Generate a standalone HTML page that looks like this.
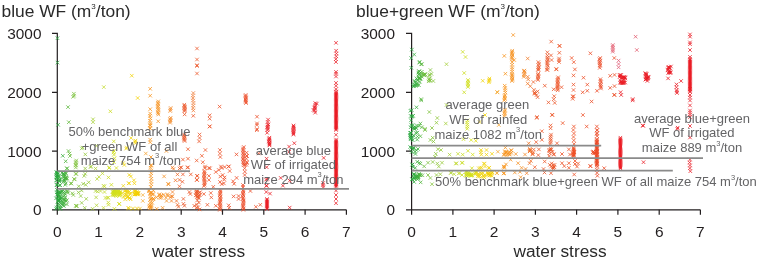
<!DOCTYPE html>
<html><head><meta charset="utf-8">
<style>
html,body{margin:0;padding:0;background:#fff;}
body{width:758px;height:260px;overflow:hidden;position:relative;}
svg{position:absolute;left:0;top:0;will-change:transform;}
text{font-family:"Liberation Sans",sans-serif;}
.t{font-size:17.4px;fill:#2a2a2a;}
.yl{font-size:15.4px;fill:#231f20;text-anchor:end;}
.xl{font-size:15.5px;fill:#231f20;text-anchor:middle;}
.an{font-size:13px;fill:#646466;text-anchor:middle;}
.ax{stroke:#231f20;stroke-width:1.2;fill:none;}
.gl{stroke:#8a8a8a;stroke-width:1.8;}
</style></head><body>
<svg width="758" height="260" viewBox="0 0 758 260">
<!-- titles -->
<text class="t" x="1.5" y="17">blue WF (m<tspan font-size="8" dy="-7.6">3</tspan><tspan dy="7.6">/ton)</tspan></text>
<text class="t" x="356" y="16.6">blue+green WF (m<tspan font-size="8" dy="-7.6">3</tspan><tspan dy="7.6">/ton)</tspan></text>
<!-- left axes -->
<path class="ax" d="M52 33.4H57.3V209.8M52 92.4H57.3M52 151.1H57.3M52 209.8H346.4"/>
<path class="ax" d="M57.3 209.8v5M98.6 209.8v5M139.9 209.8v5M181.2 209.8v5M222.5 209.8v5M263.8 209.8v5M305.1 209.8v5M346.4 209.8v5"/>
<text class="yl" x="41.5" y="39">3000</text>
<text class="yl" x="41.5" y="97.8">2000</text>
<text class="yl" x="41.5" y="156.5">1000</text>
<text class="yl" x="41.5" y="214.7">0</text>
<g class="xl">
<text class="xl" x="57.3" y="236.8">0</text><text class="xl" x="98.6" y="236.8">1</text><text class="xl" x="139.9" y="236.8">2</text><text class="xl" x="181.2" y="236.8">3</text><text class="xl" x="222.5" y="236.8">4</text><text class="xl" x="263.8" y="236.8">5</text><text class="xl" x="305.1" y="236.8">6</text><text class="xl" x="346.4" y="236.8">7</text>
</g>
<text class="t" x="198.5" y="257.2" text-anchor="middle" style="font-size:17.3px">water stress</text>
<!-- right axes -->
<path class="ax" d="M406 33.4H411.6V209.8M406 92.4H411.6M406 151.1H411.6M406 209.8H700.4"/>
<path class="ax" d="M411.6 209.8v5M452.9 209.8v5M494.1 209.8v5M535.4 209.8v5M576.6 209.8v5M617.9 209.8v5M659.2 209.8v5M700.4 209.8v5"/>
<text class="yl" x="395" y="39">3000</text>
<text class="yl" x="395" y="97.8">2000</text>
<text class="yl" x="395" y="156.5">1000</text>
<text class="yl" x="395" y="214.7">0</text>
<text class="xl" x="411.6" y="236.8">0</text><text class="xl" x="452.9" y="236.8">1</text><text class="xl" x="494.1" y="236.8">2</text><text class="xl" x="535.4" y="236.8">3</text><text class="xl" x="576.6" y="236.8">4</text><text class="xl" x="617.9" y="236.8">5</text><text class="xl" x="659.2" y="236.8">6</text><text class="xl" x="700.4" y="236.8">7</text>
<text class="t" x="560" y="257.2" text-anchor="middle" style="font-size:17.3px">water stress</text>
<!-- markers -->
<rect x="334.9" y="92.5" width="2.3" height="36.9" fill="#e91b24" opacity="0.95"/>
<rect x="334.9" y="140.5" width="2.3" height="46.0" fill="#e91b24" opacity="0.95"/>
<rect x="266.0" y="200.0" width="2.0" height="8.8" fill="#ea1c24" opacity="0.95"/>
<path d="M55.75 36.45l3.5 3.5m-3.5 0l3.5-3.5M55.75 60.85l3.5 3.5m-3.5 0l3.5-3.5M55.83 170.84l3.5 3.5m-3.5 0l3.5-3.5M55.77 175.99l3.5 3.5m-3.5 0l3.5-3.5M55.84 172.99l3.5 3.5m-3.5 0l3.5-3.5M55.71 192.72l3.5 3.5m-3.5 0l3.5-3.5M55.63 203.03l3.5 3.5m-3.5 0l3.5-3.5" stroke="#29a83e" stroke-width="0.78" fill="none"/>
<path d="M130.05 73.95l3.5 3.5m-3.5 0l3.5-3.5" stroke="#f2d30a" stroke-width="0.78" fill="none"/>
<path d="M102.05 85.35l3.5 3.5m-3.5 0l3.5-3.5" stroke="#c4db2f" stroke-width="0.78" fill="none"/>
<path d="M72.25 93.95l3.5 3.5m-3.5 0l3.5-3.5M72.15 91.95l3.5 3.5m-3.5 0l3.5-3.5M72.25 177.25l3.5 3.5m-3.5 0l3.5-3.5" stroke="#7dc23e" stroke-width="0.78" fill="none"/>
<path d="M71.45 95.05l3.5 3.5m-3.5 0l3.5-3.5" stroke="#7bc13e" stroke-width="0.78" fill="none"/>
<path d="M135.95 96.25l3.5 3.5m-3.5 0l3.5-3.5M135.77 191.27l3.5 3.5m-3.5 0l3.5-3.5" stroke="#f5d000" stroke-width="0.78" fill="none"/>
<path d="M66.25 105.35l3.5 3.5m-3.5 0l3.5-3.5" stroke="#5db83d" stroke-width="0.78" fill="none"/>
<path d="M108.65 109.55l3.5 3.5m-3.5 0l3.5-3.5" stroke="#ccde1f" stroke-width="0.78" fill="none"/>
<path d="M91.25 117.55l3.5 3.5m-3.5 0l3.5-3.5M91.25 120.45l3.5 3.5m-3.5 0l3.5-3.5" stroke="#a8d03a" stroke-width="0.78" fill="none"/>
<path d="M67.05 120.45l3.5 3.5m-3.5 0l3.5-3.5" stroke="#63ba3d" stroke-width="0.78" fill="none"/>
<path d="M56.35 123.05l3.5 3.5m-3.5 0l3.5-3.5M56.29 171.76l3.5 3.5m-3.5 0l3.5-3.5M56.35 190.59l3.5 3.5m-3.5 0l3.5-3.5M56.47 199.93l3.5 3.5m-3.5 0l3.5-3.5" stroke="#2ba93e" stroke-width="0.78" fill="none"/>
<path d="M148.45 87.05l3.5 3.5m-3.5 0l3.5-3.5M148.45 93.95l3.5 3.5m-3.5 0l3.5-3.5M148.45 107.45l3.5 3.5m-3.5 0l3.5-3.5M148.41 111.75l3.5 3.5m-3.5 0l3.5-3.5M148.27 114.17l3.5 3.5m-3.5 0l3.5-3.5M148.67 116.58l3.5 3.5m-3.5 0l3.5-3.5M148.58 121.42l3.5 3.5m-3.5 0l3.5-3.5M148.44 123.83l3.5 3.5m-3.5 0l3.5-3.5M148.45 123.25l3.5 3.5m-3.5 0l3.5-3.5M148.45 126.75l3.5 3.5m-3.5 0l3.5-3.5M148.45 137.95l3.5 3.5m-3.5 0l3.5-3.5M148.45 140.55l3.5 3.5m-3.5 0l3.5-3.5M148.37 201.02l3.5 3.5m-3.5 0l3.5-3.5M148.48 198.06l3.5 3.5m-3.5 0l3.5-3.5M148.37 192.24l3.5 3.5m-3.5 0l3.5-3.5M148.53 190.92l3.5 3.5m-3.5 0l3.5-3.5M148.74 194.26l3.5 3.5m-3.5 0l3.5-3.5M148.85 166.00l3.5 3.5m-3.5 0l3.5-3.5M148.95 174.25l3.5 3.5m-3.5 0l3.5-3.5M149.08 185.25l3.5 3.5m-3.5 0l3.5-3.5" stroke="#f7941d" stroke-width="0.78" fill="none"/>
<path d="M148.21 119.00l3.5 3.5m-3.5 0l3.5-3.5M148.20 126.25l3.5 3.5m-3.5 0l3.5-3.5M148.03 206.83l3.5 3.5m-3.5 0l3.5-3.5" stroke="#f7951e" stroke-width="0.78" fill="none"/>
<path d="M156.46 99.65l3.5 3.5m-3.5 0l3.5-3.5M156.08 101.11l3.5 3.5m-3.5 0l3.5-3.5M156.40 102.56l3.5 3.5m-3.5 0l3.5-3.5M156.11 104.02l3.5 3.5m-3.5 0l3.5-3.5M156.12 105.47l3.5 3.5m-3.5 0l3.5-3.5M156.39 106.93l3.5 3.5m-3.5 0l3.5-3.5M156.71 108.38l3.5 3.5m-3.5 0l3.5-3.5M156.15 109.84l3.5 3.5m-3.5 0l3.5-3.5M156.23 111.29l3.5 3.5m-3.5 0l3.5-3.5M156.55 112.75l3.5 3.5m-3.5 0l3.5-3.5M156.45 119.55l3.5 3.5m-3.5 0l3.5-3.5M157.39 193.31l3.5 3.5m-3.5 0l3.5-3.5" stroke="#f69322" stroke-width="0.78" fill="none"/>
<path d="M168.91 106.25l3.5 3.5m-3.5 0l3.5-3.5M168.93 116.05l3.5 3.5m-3.5 0l3.5-3.5M168.84 118.50l3.5 3.5m-3.5 0l3.5-3.5" stroke="#f48828" stroke-width="0.78" fill="none"/>
<path d="M168.61 107.75l3.5 3.5m-3.5 0l3.5-3.5M168.69 195.50l3.5 3.5m-3.5 0l3.5-3.5" stroke="#f48928" stroke-width="0.78" fill="none"/>
<path d="M168.47 109.25l3.5 3.5m-3.5 0l3.5-3.5M168.38 119.72l3.5 3.5m-3.5 0l3.5-3.5" stroke="#f48a28" stroke-width="0.78" fill="none"/>
<path d="M168.19 117.28l3.5 3.5m-3.5 0l3.5-3.5M168.27 120.95l3.5 3.5m-3.5 0l3.5-3.5" stroke="#f48b28" stroke-width="0.78" fill="none"/>
<path d="M182.54 102.95l3.5 3.5m-3.5 0l3.5-3.5M182.70 104.03l3.5 3.5m-3.5 0l3.5-3.5M183.10 105.12l3.5 3.5m-3.5 0l3.5-3.5M182.59 106.20l3.5 3.5m-3.5 0l3.5-3.5M182.92 107.28l3.5 3.5m-3.5 0l3.5-3.5M182.96 108.37l3.5 3.5m-3.5 0l3.5-3.5M182.75 109.45l3.5 3.5m-3.5 0l3.5-3.5M182.85 112.65l3.5 3.5m-3.5 0l3.5-3.5M191.55 114.05l3.5 3.5m-3.5 0l3.5-3.5M186.25 147.45l3.5 3.5m-3.5 0l3.5-3.5M186.25 156.95l3.5 3.5m-3.5 0l3.5-3.5M181.15 157.85l3.5 3.5m-3.5 0l3.5-3.5M186.25 165.65l3.5 3.5m-3.5 0l3.5-3.5M179.25 165.65l3.5 3.5m-3.5 0l3.5-3.5M182.35 132.75l3.5 3.5m-3.5 0l3.5-3.5M182.46 133.83l3.5 3.5m-3.5 0l3.5-3.5M182.85 134.92l3.5 3.5m-3.5 0l3.5-3.5M182.21 136.00l3.5 3.5m-3.5 0l3.5-3.5M182.51 137.08l3.5 3.5m-3.5 0l3.5-3.5M182.59 138.17l3.5 3.5m-3.5 0l3.5-3.5M182.86 139.25l3.5 3.5m-3.5 0l3.5-3.5M179.25 165.75l3.5 3.5m-3.5 0l3.5-3.5M180.65 180.05l3.5 3.5m-3.5 0l3.5-3.5M181.15 172.65l3.5 3.5m-3.5 0l3.5-3.5M185.65 165.75l3.5 3.5m-3.5 0l3.5-3.5M189.05 172.65l3.5 3.5m-3.5 0l3.5-3.5M181.65 197.15l3.5 3.5m-3.5 0l3.5-3.5M181.65 202.05l3.5 3.5m-3.5 0l3.5-3.5M182.65 204.05l3.5 3.5m-3.5 0l3.5-3.5M187.65 190.25l3.5 3.5m-3.5 0l3.5-3.5M188.55 192.25l3.5 3.5m-3.5 0l3.5-3.5M192.55 204.05l3.5 3.5m-3.5 0l3.5-3.5" stroke="#ec582a" stroke-width="0.78" fill="none"/>
<path d="M195.25 46.75l3.5 3.5m-3.5 0l3.5-3.5M195.25 57.75l3.5 3.5m-3.5 0l3.5-3.5M195.25 63.45l3.5 3.5m-3.5 0l3.5-3.5M195.25 64.25l3.5 3.5m-3.5 0l3.5-3.5M195.25 71.75l3.5 3.5m-3.5 0l3.5-3.5M194.95 158.75l3.5 3.5m-3.5 0l3.5-3.5M195.05 178.15l3.5 3.5m-3.5 0l3.5-3.5M195.04 189.21l3.5 3.5m-3.5 0l3.5-3.5M195.09 202.66l3.5 3.5m-3.5 0l3.5-3.5M194.50 191.40l3.5 3.5m-3.5 0l3.5-3.5M194.69 205.92l3.5 3.5m-3.5 0l3.5-3.5M194.62 190.02l3.5 3.5m-3.5 0l3.5-3.5M195.29 190.03l3.5 3.5m-3.5 0l3.5-3.5M194.83 193.29l3.5 3.5m-3.5 0l3.5-3.5M194.03 193.66l3.5 3.5m-3.5 0l3.5-3.5M195.25 174.15l3.5 3.5m-3.5 0l3.5-3.5M195.25 178.15l3.5 3.5m-3.5 0l3.5-3.5" stroke="#ec572a" stroke-width="0.78" fill="none"/>
<path d="M217.85 104.85l3.5 3.5m-3.5 0l3.5-3.5M218.18 148.25l3.5 3.5m-3.5 0l3.5-3.5M218.14 151.75l3.5 3.5m-3.5 0l3.5-3.5M218.56 155.25l3.5 3.5m-3.5 0l3.5-3.5M217.05 168.25l3.5 3.5m-3.5 0l3.5-3.5M218.21 180.20l3.5 3.5m-3.5 0l3.5-3.5M218.58 174.76l3.5 3.5m-3.5 0l3.5-3.5M218.57 188.25l3.5 3.5m-3.5 0l3.5-3.5M218.66 189.57l3.5 3.5m-3.5 0l3.5-3.5M218.42 190.89l3.5 3.5m-3.5 0l3.5-3.5M218.49 192.21l3.5 3.5m-3.5 0l3.5-3.5M218.08 193.53l3.5 3.5m-3.5 0l3.5-3.5M218.68 194.85l3.5 3.5m-3.5 0l3.5-3.5M218.24 196.17l3.5 3.5m-3.5 0l3.5-3.5M218.79 197.49l3.5 3.5m-3.5 0l3.5-3.5M218.57 198.81l3.5 3.5m-3.5 0l3.5-3.5M218.29 200.13l3.5 3.5m-3.5 0l3.5-3.5M218.15 201.45l3.5 3.5m-3.5 0l3.5-3.5M218.25 202.77l3.5 3.5m-3.5 0l3.5-3.5M218.56 204.09l3.5 3.5m-3.5 0l3.5-3.5M218.61 205.41l3.5 3.5m-3.5 0l3.5-3.5M218.14 206.73l3.5 3.5m-3.5 0l3.5-3.5M218.11 208.05l3.5 3.5m-3.5 0l3.5-3.5" stroke="#ee5126" stroke-width="0.78" fill="none"/>
<path d="M207.95 113.55l3.5 3.5m-3.5 0l3.5-3.5M207.95 116.95l3.5 3.5m-3.5 0l3.5-3.5M207.95 124.75l3.5 3.5m-3.5 0l3.5-3.5M207.95 124.65l3.5 3.5m-3.5 0l3.5-3.5M207.15 166.25l3.5 3.5m-3.5 0l3.5-3.5M207.15 174.15l3.5 3.5m-3.5 0l3.5-3.5M207.15 178.15l3.5 3.5m-3.5 0l3.5-3.5M205.65 203.05l3.5 3.5m-3.5 0l3.5-3.5" stroke="#ed5428" stroke-width="0.78" fill="none"/>
<path d="M243.91 93.25l3.5 3.5m-3.5 0l3.5-3.5M243.79 94.39l3.5 3.5m-3.5 0l3.5-3.5M244.19 95.54l3.5 3.5m-3.5 0l3.5-3.5M244.11 96.68l3.5 3.5m-3.5 0l3.5-3.5M243.75 97.82l3.5 3.5m-3.5 0l3.5-3.5M244.01 98.96l3.5 3.5m-3.5 0l3.5-3.5M243.97 100.11l3.5 3.5m-3.5 0l3.5-3.5M244.25 101.25l3.5 3.5m-3.5 0l3.5-3.5M245.15 154.25l3.5 3.5m-3.5 0l3.5-3.5M245.15 161.25l3.5 3.5m-3.5 0l3.5-3.5M244.86 150.95l3.5 3.5m-3.5 0l3.5-3.5M244.87 153.97l3.5 3.5m-3.5 0l3.5-3.5M244.63 157.00l3.5 3.5m-3.5 0l3.5-3.5M245.06 160.03l3.5 3.5m-3.5 0l3.5-3.5M244.60 163.05l3.5 3.5m-3.5 0l3.5-3.5M236.85 194.25l3.5 3.5m-3.5 0l3.5-3.5M236.85 197.25l3.5 3.5m-3.5 0l3.5-3.5" stroke="#ec4b26" stroke-width="0.78" fill="none"/>
<path d="M255.25 114.95l3.5 3.5m-3.5 0l3.5-3.5M255.25 121.65l3.5 3.5m-3.5 0l3.5-3.5M255.25 127.35l3.5 3.5m-3.5 0l3.5-3.5M257.05 151.75l3.5 3.5m-3.5 0l3.5-3.5" stroke="#ec4d28" stroke-width="0.78" fill="none"/>
<path d="M266.33 117.85l3.5 3.5m-3.5 0l3.5-3.5M265.98 120.20l3.5 3.5m-3.5 0l3.5-3.5M266.53 122.55l3.5 3.5m-3.5 0l3.5-3.5M265.84 124.90l3.5 3.5m-3.5 0l3.5-3.5M266.08 127.25l3.5 3.5m-3.5 0l3.5-3.5M265.96 123.25l3.5 3.5m-3.5 0l3.5-3.5M265.47 125.85l3.5 3.5m-3.5 0l3.5-3.5M265.74 128.45l3.5 3.5m-3.5 0l3.5-3.5M265.38 131.05l3.5 3.5m-3.5 0l3.5-3.5M267.60 135.95l3.5 3.5m-3.5 0l3.5-3.5M267.46 136.91l3.5 3.5m-3.5 0l3.5-3.5M267.54 137.88l3.5 3.5m-3.5 0l3.5-3.5M267.59 138.84l3.5 3.5m-3.5 0l3.5-3.5M267.09 139.80l3.5 3.5m-3.5 0l3.5-3.5M267.77 140.76l3.5 3.5m-3.5 0l3.5-3.5M267.67 141.72l3.5 3.5m-3.5 0l3.5-3.5M267.75 142.69l3.5 3.5m-3.5 0l3.5-3.5M267.69 143.65l3.5 3.5m-3.5 0l3.5-3.5M287.35 144.85l3.5 3.5m-3.5 0l3.5-3.5M287.35 150.05l3.5 3.5m-3.5 0l3.5-3.5M264.85 156.95l3.5 3.5m-3.5 0l3.5-3.5M264.55 184.05l3.5 3.5m-3.5 0l3.5-3.5M265.55 177.15l3.5 3.5m-3.5 0l3.5-3.5M264.55 190.25l3.5 3.5m-3.5 0l3.5-3.5M265.25 197.25l3.5 3.5m-3.5 0l3.5-3.5M265.25 198.35l3.5 3.5m-3.5 0l3.5-3.5M265.25 199.45l3.5 3.5m-3.5 0l3.5-3.5M265.25 200.55l3.5 3.5m-3.5 0l3.5-3.5M265.25 201.65l3.5 3.5m-3.5 0l3.5-3.5M265.25 202.75l3.5 3.5m-3.5 0l3.5-3.5M265.25 203.85l3.5 3.5m-3.5 0l3.5-3.5M265.25 204.95l3.5 3.5m-3.5 0l3.5-3.5M265.25 206.05l3.5 3.5m-3.5 0l3.5-3.5M265.25 207.15l3.5 3.5m-3.5 0l3.5-3.5M264.95 165.45l3.5 3.5m-3.5 0l3.5-3.5M264.35 177.85l3.5 3.5m-3.5 0l3.5-3.5M264.95 183.95l3.5 3.5m-3.5 0l3.5-3.5M278.95 176.15l3.5 3.5m-3.5 0l3.5-3.5M281.15 183.95l3.5 3.5m-3.5 0l3.5-3.5M287.95 178.95l3.5 3.5m-3.5 0l3.5-3.5M268.25 191.85l3.5 3.5m-3.5 0l3.5-3.5M287.95 205.85l3.5 3.5m-3.5 0l3.5-3.5" stroke="#ea1c24" stroke-width="0.78" fill="none"/>
<path d="M291.78 123.75l3.5 3.5m-3.5 0l3.5-3.5M291.86 124.89l3.5 3.5m-3.5 0l3.5-3.5M291.71 126.03l3.5 3.5m-3.5 0l3.5-3.5M291.95 127.16l3.5 3.5m-3.5 0l3.5-3.5M291.50 128.30l3.5 3.5m-3.5 0l3.5-3.5M291.81 129.44l3.5 3.5m-3.5 0l3.5-3.5M291.73 130.57l3.5 3.5m-3.5 0l3.5-3.5M291.71 131.71l3.5 3.5m-3.5 0l3.5-3.5M291.61 132.85l3.5 3.5m-3.5 0l3.5-3.5M313.52 101.45l3.5 3.5m-3.5 0l3.5-3.5M313.61 103.35l3.5 3.5m-3.5 0l3.5-3.5M313.23 105.25l3.5 3.5m-3.5 0l3.5-3.5M313.38 107.15l3.5 3.5m-3.5 0l3.5-3.5M312.90 109.05l3.5 3.5m-3.5 0l3.5-3.5M313.41 110.95l3.5 3.5m-3.5 0l3.5-3.5M315.05 101.85l3.5 3.5m-3.5 0l3.5-3.5M312.45 105.75l3.5 3.5m-3.5 0l3.5-3.5M311.75 108.25l3.5 3.5m-3.5 0l3.5-3.5M334.25 41.05l3.5 3.5m-3.5 0l3.5-3.5M334.37 48.95l3.5 3.5m-3.5 0l3.5-3.5M334.64 51.78l3.5 3.5m-3.5 0l3.5-3.5M334.51 54.60l3.5 3.5m-3.5 0l3.5-3.5M334.08 57.42l3.5 3.5m-3.5 0l3.5-3.5M334.16 60.25l3.5 3.5m-3.5 0l3.5-3.5M334.25 70.15l3.5 3.5m-3.5 0l3.5-3.5M334.25 71.95l3.5 3.5m-3.5 0l3.5-3.5M334.25 74.75l3.5 3.5m-3.5 0l3.5-3.5M334.25 81.15l3.5 3.5m-3.5 0l3.5-3.5M334.25 84.05l3.5 3.5m-3.5 0l3.5-3.5M334.25 87.45l3.5 3.5m-3.5 0l3.5-3.5M334.35 89.75l3.5 3.5m-3.5 0l3.5-3.5M334.35 90.85l3.5 3.5m-3.5 0l3.5-3.5M334.35 91.95l3.5 3.5m-3.5 0l3.5-3.5M334.35 93.05l3.5 3.5m-3.5 0l3.5-3.5M334.35 94.15l3.5 3.5m-3.5 0l3.5-3.5M334.35 95.25l3.5 3.5m-3.5 0l3.5-3.5M334.35 96.35l3.5 3.5m-3.5 0l3.5-3.5M334.35 97.45l3.5 3.5m-3.5 0l3.5-3.5M334.35 98.55l3.5 3.5m-3.5 0l3.5-3.5M334.35 99.65l3.5 3.5m-3.5 0l3.5-3.5M334.35 100.75l3.5 3.5m-3.5 0l3.5-3.5M334.35 101.85l3.5 3.5m-3.5 0l3.5-3.5M334.35 102.95l3.5 3.5m-3.5 0l3.5-3.5M334.35 104.05l3.5 3.5m-3.5 0l3.5-3.5M334.35 105.15l3.5 3.5m-3.5 0l3.5-3.5M334.35 106.25l3.5 3.5m-3.5 0l3.5-3.5M334.35 107.35l3.5 3.5m-3.5 0l3.5-3.5M334.35 108.45l3.5 3.5m-3.5 0l3.5-3.5M334.35 109.55l3.5 3.5m-3.5 0l3.5-3.5M334.35 110.65l3.5 3.5m-3.5 0l3.5-3.5M334.35 111.75l3.5 3.5m-3.5 0l3.5-3.5M334.35 112.85l3.5 3.5m-3.5 0l3.5-3.5M334.35 113.95l3.5 3.5m-3.5 0l3.5-3.5M334.35 115.05l3.5 3.5m-3.5 0l3.5-3.5M334.35 116.15l3.5 3.5m-3.5 0l3.5-3.5M334.35 117.25l3.5 3.5m-3.5 0l3.5-3.5M334.35 118.35l3.5 3.5m-3.5 0l3.5-3.5M334.35 119.45l3.5 3.5m-3.5 0l3.5-3.5M334.35 120.55l3.5 3.5m-3.5 0l3.5-3.5M334.35 121.65l3.5 3.5m-3.5 0l3.5-3.5M334.35 122.75l3.5 3.5m-3.5 0l3.5-3.5M334.35 123.85l3.5 3.5m-3.5 0l3.5-3.5M334.35 124.95l3.5 3.5m-3.5 0l3.5-3.5M334.35 126.05l3.5 3.5m-3.5 0l3.5-3.5M334.35 127.15l3.5 3.5m-3.5 0l3.5-3.5M334.35 128.25l3.5 3.5m-3.5 0l3.5-3.5M334.25 133.05l3.5 3.5m-3.5 0l3.5-3.5M334.35 137.75l3.5 3.5m-3.5 0l3.5-3.5M334.35 138.85l3.5 3.5m-3.5 0l3.5-3.5M334.35 139.95l3.5 3.5m-3.5 0l3.5-3.5M334.35 141.05l3.5 3.5m-3.5 0l3.5-3.5M334.35 142.15l3.5 3.5m-3.5 0l3.5-3.5M334.35 143.25l3.5 3.5m-3.5 0l3.5-3.5M334.35 144.35l3.5 3.5m-3.5 0l3.5-3.5M334.35 145.45l3.5 3.5m-3.5 0l3.5-3.5M334.35 146.55l3.5 3.5m-3.5 0l3.5-3.5M334.35 147.65l3.5 3.5m-3.5 0l3.5-3.5M334.35 148.75l3.5 3.5m-3.5 0l3.5-3.5M334.35 149.85l3.5 3.5m-3.5 0l3.5-3.5M334.35 150.95l3.5 3.5m-3.5 0l3.5-3.5M334.35 152.05l3.5 3.5m-3.5 0l3.5-3.5M334.35 153.15l3.5 3.5m-3.5 0l3.5-3.5M334.35 154.25l3.5 3.5m-3.5 0l3.5-3.5M334.35 155.35l3.5 3.5m-3.5 0l3.5-3.5M334.35 156.45l3.5 3.5m-3.5 0l3.5-3.5M334.35 157.55l3.5 3.5m-3.5 0l3.5-3.5M334.35 158.65l3.5 3.5m-3.5 0l3.5-3.5M334.35 159.75l3.5 3.5m-3.5 0l3.5-3.5M334.35 160.85l3.5 3.5m-3.5 0l3.5-3.5M334.35 161.95l3.5 3.5m-3.5 0l3.5-3.5M334.35 163.05l3.5 3.5m-3.5 0l3.5-3.5M334.35 164.15l3.5 3.5m-3.5 0l3.5-3.5M334.35 165.25l3.5 3.5m-3.5 0l3.5-3.5M334.35 166.35l3.5 3.5m-3.5 0l3.5-3.5M334.35 167.45l3.5 3.5m-3.5 0l3.5-3.5M334.35 168.55l3.5 3.5m-3.5 0l3.5-3.5M334.35 169.65l3.5 3.5m-3.5 0l3.5-3.5M334.35 170.75l3.5 3.5m-3.5 0l3.5-3.5M334.35 171.85l3.5 3.5m-3.5 0l3.5-3.5M334.35 172.95l3.5 3.5m-3.5 0l3.5-3.5M334.35 174.05l3.5 3.5m-3.5 0l3.5-3.5M334.35 175.15l3.5 3.5m-3.5 0l3.5-3.5M334.35 176.25l3.5 3.5m-3.5 0l3.5-3.5M334.35 177.35l3.5 3.5m-3.5 0l3.5-3.5M334.35 178.45l3.5 3.5m-3.5 0l3.5-3.5M334.35 179.55l3.5 3.5m-3.5 0l3.5-3.5M334.35 180.65l3.5 3.5m-3.5 0l3.5-3.5M334.35 181.75l3.5 3.5m-3.5 0l3.5-3.5M334.35 182.85l3.5 3.5m-3.5 0l3.5-3.5M334.35 183.95l3.5 3.5m-3.5 0l3.5-3.5M334.35 185.05l3.5 3.5m-3.5 0l3.5-3.5M334.25 188.85l3.5 3.5m-3.5 0l3.5-3.5M334.25 193.25l3.5 3.5m-3.5 0l3.5-3.5M334.25 197.25l3.5 3.5m-3.5 0l3.5-3.5M334.25 201.45l3.5 3.5m-3.5 0l3.5-3.5M292.55 141.45l3.5 3.5m-3.5 0l3.5-3.5M321.95 156.15l3.5 3.5m-3.5 0l3.5-3.5M321.40 181.25l3.5 3.5m-3.5 0l3.5-3.5M321.17 183.25l3.5 3.5m-3.5 0l3.5-3.5M321.55 185.25l3.5 3.5m-3.5 0l3.5-3.5" stroke="#e91b24" stroke-width="0.78" fill="none"/>
<path d="M66.75 149.25l3.5 3.5m-3.5 0l3.5-3.5" stroke="#61ba3d" stroke-width="0.78" fill="none"/>
<path d="M67.75 151.75l3.5 3.5m-3.5 0l3.5-3.5" stroke="#68bc3d" stroke-width="0.78" fill="none"/>
<path d="M68.25 154.25l3.5 3.5m-3.5 0l3.5-3.5" stroke="#6cbd3e" stroke-width="0.78" fill="none"/>
<path d="M61.05 154.05l3.5 3.5m-3.5 0l3.5-3.5M60.94 201.19l3.5 3.5m-3.5 0l3.5-3.5" stroke="#3aae3c" stroke-width="0.78" fill="none"/>
<path d="M63.95 159.55l3.5 3.5m-3.5 0l3.5-3.5M63.95 172.22l3.5 3.5m-3.5 0l3.5-3.5M64.04 181.60l3.5 3.5m-3.5 0l3.5-3.5" stroke="#4db43d" stroke-width="0.78" fill="none"/>
<path d="M65.35 166.55l3.5 3.5m-3.5 0l3.5-3.5M65.35 189.33l3.5 3.5m-3.5 0l3.5-3.5" stroke="#57b73d" stroke-width="0.78" fill="none"/>
<path d="M80.05 146.65l3.5 3.5m-3.5 0l3.5-3.5M79.95 201.15l3.5 3.5m-3.5 0l3.5-3.5M79.95 188.75l3.5 3.5m-3.5 0l3.5-3.5" stroke="#8ec73d" stroke-width="0.78" fill="none"/>
<path d="M83.55 152.65l3.5 3.5m-3.5 0l3.5-3.5" stroke="#95ca3d" stroke-width="0.78" fill="none"/>
<path d="M112.05 139.65l3.5 3.5m-3.5 0l3.5-3.5M112.24 149.25l3.5 3.5m-3.5 0l3.5-3.5M112.20 152.92l3.5 3.5m-3.5 0l3.5-3.5M112.76 156.58l3.5 3.5m-3.5 0l3.5-3.5M112.25 160.25l3.5 3.5m-3.5 0l3.5-3.5M112.65 207.05l3.5 3.5m-3.5 0l3.5-3.5M112.82 189.48l3.5 3.5m-3.5 0l3.5-3.5M112.66 189.23l3.5 3.5m-3.5 0l3.5-3.5M112.04 188.86l3.5 3.5m-3.5 0l3.5-3.5M112.36 190.48l3.5 3.5m-3.5 0l3.5-3.5M112.17 190.70l3.5 3.5m-3.5 0l3.5-3.5M112.06 189.07l3.5 3.5m-3.5 0l3.5-3.5M112.69 190.37l3.5 3.5m-3.5 0l3.5-3.5" stroke="#d1df1c" stroke-width="0.78" fill="none"/>
<path d="M129.35 136.25l3.5 3.5m-3.5 0l3.5-3.5" stroke="#f2d30b" stroke-width="0.78" fill="none"/>
<path d="M133.65 138.85l3.5 3.5m-3.5 0l3.5-3.5M133.65 141.45l3.5 3.5m-3.5 0l3.5-3.5M133.63 188.95l3.5 3.5m-3.5 0l3.5-3.5M133.69 192.49l3.5 3.5m-3.5 0l3.5-3.5M133.43 192.55l3.5 3.5m-3.5 0l3.5-3.5M133.64 192.56l3.5 3.5m-3.5 0l3.5-3.5M133.86 191.62l3.5 3.5m-3.5 0l3.5-3.5" stroke="#f4d104" stroke-width="0.78" fill="none"/>
<path d="M125.05 145.75l3.5 3.5m-3.5 0l3.5-3.5M124.92 190.40l3.5 3.5m-3.5 0l3.5-3.5M124.94 188.60l3.5 3.5m-3.5 0l3.5-3.5M125.15 195.45l3.5 3.5m-3.5 0l3.5-3.5M125.11 193.19l3.5 3.5m-3.5 0l3.5-3.5" stroke="#f0d513" stroke-width="0.78" fill="none"/>
<path d="M121.55 161.25l3.5 3.5m-3.5 0l3.5-3.5M121.55 184.05l3.5 3.5m-3.5 0l3.5-3.5" stroke="#eed719" stroke-width="0.78" fill="none"/>
<path d="M144.05 151.75l3.5 3.5m-3.5 0l3.5-3.5" stroke="#f6a22d" stroke-width="0.78" fill="none"/>
<path d="M149.25 155.25l3.5 3.5m-3.5 0l3.5-3.5M149.25 163.95l3.5 3.5m-3.5 0l3.5-3.5M150.44 201.09l3.5 3.5m-3.5 0l3.5-3.5M149.33 197.11l3.5 3.5m-3.5 0l3.5-3.5M149.30 203.83l3.5 3.5m-3.5 0l3.5-3.5M149.90 190.94l3.5 3.5m-3.5 0l3.5-3.5M149.62 206.35l3.5 3.5m-3.5 0l3.5-3.5M149.54 205.10l3.5 3.5m-3.5 0l3.5-3.5M150.50 192.65l3.5 3.5m-3.5 0l3.5-3.5M149.46 196.81l3.5 3.5m-3.5 0l3.5-3.5M149.52 163.25l3.5 3.5m-3.5 0l3.5-3.5M149.45 168.75l3.5 3.5m-3.5 0l3.5-3.5M149.52 171.50l3.5 3.5m-3.5 0l3.5-3.5M149.59 177.00l3.5 3.5m-3.5 0l3.5-3.5M149.42 179.75l3.5 3.5m-3.5 0l3.5-3.5M149.57 182.50l3.5 3.5m-3.5 0l3.5-3.5" stroke="#f7941e" stroke-width="0.78" fill="none"/>
<path d="M89.25 164.75l3.5 3.5m-3.5 0l3.5-3.5" stroke="#a2ce3b" stroke-width="0.78" fill="none"/>
<path d="M107.75 165.65l3.5 3.5m-3.5 0l3.5-3.5" stroke="#cbdd21" stroke-width="0.78" fill="none"/>
<path d="M94.75 144.05l3.5 3.5m-3.5 0l3.5-3.5M94.85 203.55l3.5 3.5m-3.5 0l3.5-3.5" stroke="#b2d437" stroke-width="0.78" fill="none"/>
<path d="M80.95 145.85l3.5 3.5m-3.5 0l3.5-3.5" stroke="#90c83d" stroke-width="0.78" fill="none"/>
<path d="M111.65 150.75l3.5 3.5m-3.5 0l3.5-3.5M111.79 191.17l3.5 3.5m-3.5 0l3.5-3.5M111.78 191.82l3.5 3.5m-3.5 0l3.5-3.5M111.79 188.99l3.5 3.5m-3.5 0l3.5-3.5" stroke="#d0df1c" stroke-width="0.78" fill="none"/>
<path d="M124.45 146.85l3.5 3.5m-3.5 0l3.5-3.5" stroke="#efd614" stroke-width="0.78" fill="none"/>
<path d="M133.35 139.85l3.5 3.5m-3.5 0l3.5-3.5" stroke="#f4d105" stroke-width="0.78" fill="none"/>
<path d="M74.48 158.75l3.5 3.5m-3.5 0l3.5-3.5M74.32 161.62l3.5 3.5m-3.5 0l3.5-3.5M74.55 172.15l3.5 3.5m-3.5 0l3.5-3.5M74.55 204.05l3.5 3.5m-3.5 0l3.5-3.5" stroke="#82c33e" stroke-width="0.78" fill="none"/>
<path d="M73.97 160.18l3.5 3.5m-3.5 0l3.5-3.5M74.08 163.05l3.5 3.5m-3.5 0l3.5-3.5M73.95 172.15l3.5 3.5m-3.5 0l3.5-3.5M74.15 203.95l3.5 3.5m-3.5 0l3.5-3.5M74.05 163.75l3.5 3.5m-3.5 0l3.5-3.5M74.05 165.75l3.5 3.5m-3.5 0l3.5-3.5" stroke="#81c33e" stroke-width="0.78" fill="none"/>
<path d="M203.65 148.25l3.5 3.5m-3.5 0l3.5-3.5M203.25 164.75l3.5 3.5m-3.5 0l3.5-3.5M203.15 166.25l3.5 3.5m-3.5 0l3.5-3.5M202.65 170.61l3.5 3.5m-3.5 0l3.5-3.5M202.84 171.98l3.5 3.5m-3.5 0l3.5-3.5M202.91 180.16l3.5 3.5m-3.5 0l3.5-3.5M202.83 181.52l3.5 3.5m-3.5 0l3.5-3.5M202.85 182.89l3.5 3.5m-3.5 0l3.5-3.5" stroke="#ed5528" stroke-width="0.78" fill="none"/>
<path d="M234.75 152.65l3.5 3.5m-3.5 0l3.5-3.5M234.85 176.15l3.5 3.5m-3.5 0l3.5-3.5" stroke="#ed4c26" stroke-width="0.78" fill="none"/>
<path d="M200.15 154.05l3.5 3.5m-3.5 0l3.5-3.5" stroke="#ed5629" stroke-width="0.78" fill="none"/>
<path d="M201.05 160.45l3.5 3.5m-3.5 0l3.5-3.5M202.55 169.25l3.5 3.5m-3.5 0l3.5-3.5M202.32 173.34l3.5 3.5m-3.5 0l3.5-3.5M202.37 174.70l3.5 3.5m-3.5 0l3.5-3.5M202.35 176.07l3.5 3.5m-3.5 0l3.5-3.5M202.47 177.43l3.5 3.5m-3.5 0l3.5-3.5M202.51 178.80l3.5 3.5m-3.5 0l3.5-3.5M202.17 184.25l3.5 3.5m-3.5 0l3.5-3.5M202.15 192.25l3.5 3.5m-3.5 0l3.5-3.5" stroke="#ed5529" stroke-width="0.78" fill="none"/>
<path d="M208.25 166.55l3.5 3.5m-3.5 0l3.5-3.5M209.05 191.25l3.5 3.5m-3.5 0l3.5-3.5M209.55 195.65l3.5 3.5m-3.5 0l3.5-3.5" stroke="#ed5328" stroke-width="0.78" fill="none"/>
<path d="M219.25 164.75l3.5 3.5m-3.5 0l3.5-3.5M219.95 166.25l3.5 3.5m-3.5 0l3.5-3.5M220.93 173.25l3.5 3.5m-3.5 0l3.5-3.5M219.97 182.33l3.5 3.5m-3.5 0l3.5-3.5M222.10 181.63l3.5 3.5m-3.5 0l3.5-3.5" stroke="#ee5026" stroke-width="0.78" fill="none"/>
<path d="M226.95 164.75l3.5 3.5m-3.5 0l3.5-3.5M226.95 164.75l3.5 3.5m-3.5 0l3.5-3.5M227.95 169.25l3.5 3.5m-3.5 0l3.5-3.5M226.95 203.55l3.5 3.5m-3.5 0l3.5-3.5M227.45 206.05l3.5 3.5m-3.5 0l3.5-3.5" stroke="#ed4e26" stroke-width="0.78" fill="none"/>
<path d="M164.65 149.25l3.5 3.5m-3.5 0l3.5-3.5M165.76 192.45l3.5 3.5m-3.5 0l3.5-3.5M165.99 194.05l3.5 3.5m-3.5 0l3.5-3.5M164.85 199.15l3.5 3.5m-3.5 0l3.5-3.5" stroke="#f59127" stroke-width="0.78" fill="none"/>
<path d="M170.75 165.65l3.5 3.5m-3.5 0l3.5-3.5M170.73 194.61l3.5 3.5m-3.5 0l3.5-3.5M170.75 190.25l3.5 3.5m-3.5 0l3.5-3.5" stroke="#f28029" stroke-width="0.78" fill="none"/>
<path d="M197.81 132.75l3.5 3.5m-3.5 0l3.5-3.5M197.84 136.20l3.5 3.5m-3.5 0l3.5-3.5M197.37 139.65l3.5 3.5m-3.5 0l3.5-3.5M197.92 190.73l3.5 3.5m-3.5 0l3.5-3.5M198.14 193.32l3.5 3.5m-3.5 0l3.5-3.5M197.83 207.68l3.5 3.5m-3.5 0l3.5-3.5M198.10 190.70l3.5 3.5m-3.5 0l3.5-3.5" stroke="#ec5629" stroke-width="0.78" fill="none"/>
<path d="M242.02 145.25l3.5 3.5m-3.5 0l3.5-3.5M241.37 146.75l3.5 3.5m-3.5 0l3.5-3.5M241.39 148.25l3.5 3.5m-3.5 0l3.5-3.5M241.44 149.75l3.5 3.5m-3.5 0l3.5-3.5M241.44 151.25l3.5 3.5m-3.5 0l3.5-3.5M241.64 152.75l3.5 3.5m-3.5 0l3.5-3.5M241.72 154.25l3.5 3.5m-3.5 0l3.5-3.5M241.46 155.75l3.5 3.5m-3.5 0l3.5-3.5M241.25 157.25l3.5 3.5m-3.5 0l3.5-3.5M241.59 158.75l3.5 3.5m-3.5 0l3.5-3.5M241.55 160.25l3.5 3.5m-3.5 0l3.5-3.5M241.70 161.75l3.5 3.5m-3.5 0l3.5-3.5M242.01 163.25l3.5 3.5m-3.5 0l3.5-3.5M241.25 183.25l3.5 3.5m-3.5 0l3.5-3.5M241.25 185.25l3.5 3.5m-3.5 0l3.5-3.5M242.77 163.25l3.5 3.5m-3.5 0l3.5-3.5M242.90 166.58l3.5 3.5m-3.5 0l3.5-3.5M243.10 169.92l3.5 3.5m-3.5 0l3.5-3.5M242.93 173.25l3.5 3.5m-3.5 0l3.5-3.5M241.47 188.25l3.5 3.5m-3.5 0l3.5-3.5M241.52 189.57l3.5 3.5m-3.5 0l3.5-3.5M241.36 190.89l3.5 3.5m-3.5 0l3.5-3.5M241.23 192.21l3.5 3.5m-3.5 0l3.5-3.5M241.53 193.53l3.5 3.5m-3.5 0l3.5-3.5M241.06 194.85l3.5 3.5m-3.5 0l3.5-3.5M241.29 196.17l3.5 3.5m-3.5 0l3.5-3.5M241.42 197.49l3.5 3.5m-3.5 0l3.5-3.5M241.82 198.81l3.5 3.5m-3.5 0l3.5-3.5M241.57 200.13l3.5 3.5m-3.5 0l3.5-3.5M241.76 201.45l3.5 3.5m-3.5 0l3.5-3.5M241.43 202.77l3.5 3.5m-3.5 0l3.5-3.5M241.24 204.09l3.5 3.5m-3.5 0l3.5-3.5M241.25 205.41l3.5 3.5m-3.5 0l3.5-3.5M241.82 206.73l3.5 3.5m-3.5 0l3.5-3.5M241.61 208.05l3.5 3.5m-3.5 0l3.5-3.5" stroke="#ec4a26" stroke-width="0.78" fill="none"/>
<path d="M255.05 123.25l3.5 3.5m-3.5 0l3.5-3.5M255.05 128.45l3.5 3.5m-3.5 0l3.5-3.5M254.15 205.05l3.5 3.5m-3.5 0l3.5-3.5" stroke="#ec4d27" stroke-width="0.78" fill="none"/>
<path d="M54.71 173.62l3.5 3.5m-3.5 0l3.5-3.5M55.07 175.62l3.5 3.5m-3.5 0l3.5-3.5M54.65 170.45l3.5 3.5m-3.5 0l3.5-3.5M55.02 171.99l3.5 3.5m-3.5 0l3.5-3.5M55.01 174.28l3.5 3.5m-3.5 0l3.5-3.5M54.92 183.35l3.5 3.5m-3.5 0l3.5-3.5M54.84 175.66l3.5 3.5m-3.5 0l3.5-3.5M55.46 183.05l3.5 3.5m-3.5 0l3.5-3.5M55.06 170.80l3.5 3.5m-3.5 0l3.5-3.5M55.01 178.71l3.5 3.5m-3.5 0l3.5-3.5M54.55 178.48l3.5 3.5m-3.5 0l3.5-3.5M55.30 182.78l3.5 3.5m-3.5 0l3.5-3.5M55.10 190.51l3.5 3.5m-3.5 0l3.5-3.5M55.01 205.60l3.5 3.5m-3.5 0l3.5-3.5M54.32 206.89l3.5 3.5m-3.5 0l3.5-3.5M55.31 192.94l3.5 3.5m-3.5 0l3.5-3.5M54.34 196.59l3.5 3.5m-3.5 0l3.5-3.5M55.17 188.13l3.5 3.5m-3.5 0l3.5-3.5" stroke="#28a83e" stroke-width="0.78" fill="none"/>
<path d="M57.77 179.78l3.5 3.5m-3.5 0l3.5-3.5M57.71 196.83l3.5 3.5m-3.5 0l3.5-3.5" stroke="#2fab3d" stroke-width="0.78" fill="none"/>
<path d="M58.22 177.53l3.5 3.5m-3.5 0l3.5-3.5M58.17 183.57l3.5 3.5m-3.5 0l3.5-3.5M58.19 183.41l3.5 3.5m-3.5 0l3.5-3.5M58.28 190.89l3.5 3.5m-3.5 0l3.5-3.5M58.38 207.07l3.5 3.5m-3.5 0l3.5-3.5M58.25 191.39l3.5 3.5m-3.5 0l3.5-3.5M58.17 190.11l3.5 3.5m-3.5 0l3.5-3.5" stroke="#31ab3d" stroke-width="0.78" fill="none"/>
<path d="M58.06 178.48l3.5 3.5m-3.5 0l3.5-3.5M58.05 205.75l3.5 3.5m-3.5 0l3.5-3.5" stroke="#30ab3d" stroke-width="0.78" fill="none"/>
<path d="M57.10 174.42l3.5 3.5m-3.5 0l3.5-3.5M57.03 194.37l3.5 3.5m-3.5 0l3.5-3.5M57.05 192.87l3.5 3.5m-3.5 0l3.5-3.5" stroke="#2daa3d" stroke-width="0.78" fill="none"/>
<path d="M57.38 178.55l3.5 3.5m-3.5 0l3.5-3.5M57.41 175.46l3.5 3.5m-3.5 0l3.5-3.5M57.18 193.08l3.5 3.5m-3.5 0l3.5-3.5" stroke="#2eaa3d" stroke-width="0.78" fill="none"/>
<path d="M64.28 176.07l3.5 3.5m-3.5 0l3.5-3.5M64.25 171.30l3.5 3.5m-3.5 0l3.5-3.5M64.28 199.43l3.5 3.5m-3.5 0l3.5-3.5" stroke="#4fb43d" stroke-width="0.78" fill="none"/>
<path d="M62.84 173.06l3.5 3.5m-3.5 0l3.5-3.5" stroke="#45b13c" stroke-width="0.78" fill="none"/>
<path d="M60.39 170.93l3.5 3.5m-3.5 0l3.5-3.5" stroke="#38ae3c" stroke-width="0.78" fill="none"/>
<path d="M61.65 172.43l3.5 3.5m-3.5 0l3.5-3.5M61.62 195.02l3.5 3.5m-3.5 0l3.5-3.5" stroke="#3caf3c" stroke-width="0.78" fill="none"/>
<path d="M63.71 176.97l3.5 3.5m-3.5 0l3.5-3.5" stroke="#4bb33d" stroke-width="0.78" fill="none"/>
<path d="M62.49 176.84l3.5 3.5m-3.5 0l3.5-3.5" stroke="#42b13c" stroke-width="0.78" fill="none"/>
<path d="M65.19 176.96l3.5 3.5m-3.5 0l3.5-3.5M65.18 202.64l3.5 3.5m-3.5 0l3.5-3.5" stroke="#56b63d" stroke-width="0.78" fill="none"/>
<path d="M62.07 172.18l3.5 3.5m-3.5 0l3.5-3.5M62.08 204.35l3.5 3.5m-3.5 0l3.5-3.5M62.02 198.00l3.5 3.5m-3.5 0l3.5-3.5" stroke="#3fb03c" stroke-width="0.78" fill="none"/>
<path d="M61.38 172.03l3.5 3.5m-3.5 0l3.5-3.5M61.27 174.81l3.5 3.5m-3.5 0l3.5-3.5M61.26 203.26l3.5 3.5m-3.5 0l3.5-3.5M61.40 200.86l3.5 3.5m-3.5 0l3.5-3.5" stroke="#3baf3c" stroke-width="0.78" fill="none"/>
<path d="M64.75 176.21l3.5 3.5m-3.5 0l3.5-3.5" stroke="#53b53d" stroke-width="0.78" fill="none"/>
<path d="M62.65 174.99l3.5 3.5m-3.5 0l3.5-3.5M62.57 193.75l3.5 3.5m-3.5 0l3.5-3.5" stroke="#43b13c" stroke-width="0.78" fill="none"/>
<path d="M63.55 176.66l3.5 3.5m-3.5 0l3.5-3.5" stroke="#4ab33c" stroke-width="0.78" fill="none"/>
<path d="M64.16 175.63l3.5 3.5m-3.5 0l3.5-3.5" stroke="#4eb43d" stroke-width="0.78" fill="none"/>
<path d="M62.16 178.32l3.5 3.5m-3.5 0l3.5-3.5" stroke="#40b03c" stroke-width="0.78" fill="none"/>
<path d="M63.41 179.25l3.5 3.5m-3.5 0l3.5-3.5M63.45 183.08l3.5 3.5m-3.5 0l3.5-3.5M63.48 195.87l3.5 3.5m-3.5 0l3.5-3.5" stroke="#49b33c" stroke-width="0.78" fill="none"/>
<path d="M61.83 179.66l3.5 3.5m-3.5 0l3.5-3.5" stroke="#3daf3c" stroke-width="0.78" fill="none"/>
<path d="M57.54 194.85l3.5 3.5m-3.5 0l3.5-3.5M57.50 198.27l3.5 3.5m-3.5 0l3.5-3.5" stroke="#2faa3d" stroke-width="0.78" fill="none"/>
<path d="M56.99 190.59l3.5 3.5m-3.5 0l3.5-3.5M56.91 198.21l3.5 3.5m-3.5 0l3.5-3.5M56.92 197.32l3.5 3.5m-3.5 0l3.5-3.5" stroke="#2daa3e" stroke-width="0.78" fill="none"/>
<path d="M58.92 196.47l3.5 3.5m-3.5 0l3.5-3.5M58.80 194.91l3.5 3.5m-3.5 0l3.5-3.5M58.77 196.21l3.5 3.5m-3.5 0l3.5-3.5M58.84 197.78l3.5 3.5m-3.5 0l3.5-3.5M58.96 201.61l3.5 3.5m-3.5 0l3.5-3.5" stroke="#33ac3d" stroke-width="0.78" fill="none"/>
<path d="M58.61 204.08l3.5 3.5m-3.5 0l3.5-3.5M58.63 206.33l3.5 3.5m-3.5 0l3.5-3.5" stroke="#32ac3d" stroke-width="0.78" fill="none"/>
<path d="M56.54 199.37l3.5 3.5m-3.5 0l3.5-3.5M56.62 202.12l3.5 3.5m-3.5 0l3.5-3.5" stroke="#2ca93e" stroke-width="0.78" fill="none"/>
<path d="M56.84 198.83l3.5 3.5m-3.5 0l3.5-3.5M56.79 198.95l3.5 3.5m-3.5 0l3.5-3.5M56.78 197.99l3.5 3.5m-3.5 0l3.5-3.5" stroke="#2caa3e" stroke-width="0.78" fill="none"/>
<path d="M60.03 198.90l3.5 3.5m-3.5 0l3.5-3.5M59.97 189.47l3.5 3.5m-3.5 0l3.5-3.5" stroke="#37ad3d" stroke-width="0.78" fill="none"/>
<path d="M59.66 190.41l3.5 3.5m-3.5 0l3.5-3.5" stroke="#36ad3d" stroke-width="0.78" fill="none"/>
<path d="M60.58 189.46l3.5 3.5m-3.5 0l3.5-3.5" stroke="#39ae3c" stroke-width="0.78" fill="none"/>
<path d="M61.94 191.05l3.5 3.5m-3.5 0l3.5-3.5" stroke="#3eb03c" stroke-width="0.78" fill="none"/>
<path d="M66.07 189.78l3.5 3.5m-3.5 0l3.5-3.5M65.99 191.20l3.5 3.5m-3.5 0l3.5-3.5" stroke="#5cb83d" stroke-width="0.78" fill="none"/>
<path d="M63.18 192.12l3.5 3.5m-3.5 0l3.5-3.5M63.10 198.15l3.5 3.5m-3.5 0l3.5-3.5" stroke="#47b23c" stroke-width="0.78" fill="none"/>
<path d="M62.68 189.60l3.5 3.5m-3.5 0l3.5-3.5M62.79 197.86l3.5 3.5m-3.5 0l3.5-3.5" stroke="#44b13c" stroke-width="0.78" fill="none"/>
<path d="M62.31 201.62l3.5 3.5m-3.5 0l3.5-3.5" stroke="#41b03c" stroke-width="0.78" fill="none"/>
<path d="M65.13 198.40l3.5 3.5m-3.5 0l3.5-3.5M65.15 166.75l3.5 3.5m-3.5 0l3.5-3.5" stroke="#55b63d" stroke-width="0.78" fill="none"/>
<path d="M69.65 181.85l3.5 3.5m-3.5 0l3.5-3.5" stroke="#76bf3e" stroke-width="0.78" fill="none"/>
<path d="M70.65 191.55l3.5 3.5m-3.5 0l3.5-3.5" stroke="#7ac13e" stroke-width="0.78" fill="none"/>
<path d="M76.75 190.65l3.5 3.5m-3.5 0l3.5-3.5M77.05 184.55l3.5 3.5m-3.5 0l3.5-3.5" stroke="#87c53d" stroke-width="0.78" fill="none"/>
<path d="M83.45 166.75l3.5 3.5m-3.5 0l3.5-3.5M83.45 172.15l3.5 3.5m-3.5 0l3.5-3.5" stroke="#95c93d" stroke-width="0.78" fill="none"/>
<path d="M88.85 165.25l3.5 3.5m-3.5 0l3.5-3.5" stroke="#a1cd3c" stroke-width="0.78" fill="none"/>
<path d="M93.85 166.75l3.5 3.5m-3.5 0l3.5-3.5M93.85 189.25l3.5 3.5m-3.5 0l3.5-3.5" stroke="#afd338" stroke-width="0.78" fill="none"/>
<path d="M107.25 166.25l3.5 3.5m-3.5 0l3.5-3.5" stroke="#cbdd23" stroke-width="0.78" fill="none"/>
<path d="M114.65 166.25l3.5 3.5m-3.5 0l3.5-3.5M114.55 194.34l3.5 3.5m-3.5 0l3.5-3.5M114.80 192.81l3.5 3.5m-3.5 0l3.5-3.5" stroke="#d4e01b" stroke-width="0.78" fill="none"/>
<path d="M122.55 163.25l3.5 3.5m-3.5 0l3.5-3.5" stroke="#eed717" stroke-width="0.78" fill="none"/>
<path d="M73.05 177.65l3.5 3.5m-3.5 0l3.5-3.5" stroke="#7fc23e" stroke-width="0.78" fill="none"/>
<path d="M69.05 181.55l3.5 3.5m-3.5 0l3.5-3.5" stroke="#72be3e" stroke-width="0.78" fill="none"/>
<path d="M82.45 174.15l3.5 3.5m-3.5 0l3.5-3.5" stroke="#93c93d" stroke-width="0.78" fill="none"/>
<path d="M81.45 182.05l3.5 3.5m-3.5 0l3.5-3.5" stroke="#91c83d" stroke-width="0.78" fill="none"/>
<path d="M83.95 183.05l3.5 3.5m-3.5 0l3.5-3.5" stroke="#96ca3c" stroke-width="0.78" fill="none"/>
<path d="M86.95 180.55l3.5 3.5m-3.5 0l3.5-3.5" stroke="#9dcc3c" stroke-width="0.78" fill="none"/>
<path d="M95.35 177.15l3.5 3.5m-3.5 0l3.5-3.5" stroke="#b3d436" stroke-width="0.78" fill="none"/>
<path d="M97.25 175.15l3.5 3.5m-3.5 0l3.5-3.5" stroke="#b9d635" stroke-width="0.78" fill="none"/>
<path d="M100.75 171.65l3.5 3.5m-3.5 0l3.5-3.5" stroke="#c3da32" stroke-width="0.78" fill="none"/>
<path d="M106.75 175.65l3.5 3.5m-3.5 0l3.5-3.5M106.75 203.05l3.5 3.5m-3.5 0l3.5-3.5M106.55 195.75l3.5 3.5m-3.5 0l3.5-3.5M106.55 200.75l3.5 3.5m-3.5 0l3.5-3.5" stroke="#cadd24" stroke-width="0.78" fill="none"/>
<path d="M101.75 184.05l3.5 3.5m-3.5 0l3.5-3.5M101.75 206.05l3.5 3.5m-3.5 0l3.5-3.5" stroke="#c4da30" stroke-width="0.78" fill="none"/>
<path d="M102.75 184.55l3.5 3.5m-3.5 0l3.5-3.5M102.75 190.25l3.5 3.5m-3.5 0l3.5-3.5" stroke="#c5db2d" stroke-width="0.78" fill="none"/>
<path d="M109.65 183.05l3.5 3.5m-3.5 0l3.5-3.5" stroke="#cede1e" stroke-width="0.78" fill="none"/>
<path d="M127.55 173.15l3.5 3.5m-3.5 0l3.5-3.5M127.05 181.55l3.5 3.5m-3.5 0l3.5-3.5M127.25 181.55l3.5 3.5m-3.5 0l3.5-3.5M127.25 206.75l3.5 3.5m-3.5 0l3.5-3.5" stroke="#f1d40f" stroke-width="0.78" fill="none"/>
<path d="M71.55 193.25l3.5 3.5m-3.5 0l3.5-3.5" stroke="#7cc13e" stroke-width="0.78" fill="none"/>
<path d="M75.05 204.55l3.5 3.5m-3.5 0l3.5-3.5" stroke="#83c43d" stroke-width="0.78" fill="none"/>
<path d="M78.95 194.25l3.5 3.5m-3.5 0l3.5-3.5" stroke="#8bc63d" stroke-width="0.78" fill="none"/>
<path d="M82.95 206.05l3.5 3.5m-3.5 0l3.5-3.5" stroke="#94c93d" stroke-width="0.78" fill="none"/>
<path d="M84.45 197.15l3.5 3.5m-3.5 0l3.5-3.5" stroke="#97ca3c" stroke-width="0.78" fill="none"/>
<path d="M95.85 189.75l3.5 3.5m-3.5 0l3.5-3.5" stroke="#b5d536" stroke-width="0.78" fill="none"/>
<path d="M98.75 189.25l3.5 3.5m-3.5 0l3.5-3.5" stroke="#bdd834" stroke-width="0.78" fill="none"/>
<path d="M94.35 195.65l3.5 3.5m-3.5 0l3.5-3.5" stroke="#b1d337" stroke-width="0.78" fill="none"/>
<path d="M90.85 207.05l3.5 3.5m-3.5 0l3.5-3.5" stroke="#a7cf3a" stroke-width="0.78" fill="none"/>
<path d="M103.75 196.15l3.5 3.5m-3.5 0l3.5-3.5" stroke="#c6db2b" stroke-width="0.78" fill="none"/>
<path d="M105.75 196.15l3.5 3.5m-3.5 0l3.5-3.5" stroke="#c9dc26" stroke-width="0.78" fill="none"/>
<path d="M117.65 202.05l3.5 3.5m-3.5 0l3.5-3.5M117.65 191.36l3.5 3.5m-3.5 0l3.5-3.5" stroke="#d8e019" stroke-width="0.78" fill="none"/>
<path d="M126.55 206.05l3.5 3.5m-3.5 0l3.5-3.5" stroke="#f0d510" stroke-width="0.78" fill="none"/>
<path d="M118.04 193.63l3.5 3.5m-3.5 0l3.5-3.5M118.10 192.09l3.5 3.5m-3.5 0l3.5-3.5M118.16 190.21l3.5 3.5m-3.5 0l3.5-3.5" stroke="#dbdf19" stroke-width="0.78" fill="none"/>
<path d="M116.35 189.10l3.5 3.5m-3.5 0l3.5-3.5" stroke="#d6e11a" stroke-width="0.78" fill="none"/>
<path d="M111.21 192.82l3.5 3.5m-3.5 0l3.5-3.5M111.60 193.63l3.5 3.5m-3.5 0l3.5-3.5" stroke="#d0df1d" stroke-width="0.78" fill="none"/>
<path d="M114.15 189.00l3.5 3.5m-3.5 0l3.5-3.5M114.21 191.62l3.5 3.5m-3.5 0l3.5-3.5M114.43 189.53l3.5 3.5m-3.5 0l3.5-3.5M114.32 190.18l3.5 3.5m-3.5 0l3.5-3.5" stroke="#d3e01b" stroke-width="0.78" fill="none"/>
<path d="M118.26 192.48l3.5 3.5m-3.5 0l3.5-3.5" stroke="#dcdf19" stroke-width="0.78" fill="none"/>
<path d="M117.16 189.07l3.5 3.5m-3.5 0l3.5-3.5M117.43 190.99l3.5 3.5m-3.5 0l3.5-3.5M117.41 192.93l3.5 3.5m-3.5 0l3.5-3.5M117.48 193.95l3.5 3.5m-3.5 0l3.5-3.5M117.25 202.25l3.5 3.5m-3.5 0l3.5-3.5" stroke="#d7e119" stroke-width="0.78" fill="none"/>
<path d="M117.60 188.96l3.5 3.5m-3.5 0l3.5-3.5" stroke="#d8e119" stroke-width="0.78" fill="none"/>
<path d="M113.46 191.98l3.5 3.5m-3.5 0l3.5-3.5M113.53 188.89l3.5 3.5m-3.5 0l3.5-3.5" stroke="#d2e01b" stroke-width="0.78" fill="none"/>
<path d="M113.19 193.26l3.5 3.5m-3.5 0l3.5-3.5M113.07 191.65l3.5 3.5m-3.5 0l3.5-3.5" stroke="#d2df1c" stroke-width="0.78" fill="none"/>
<path d="M110.90 190.10l3.5 3.5m-3.5 0l3.5-3.5M110.87 193.10l3.5 3.5m-3.5 0l3.5-3.5" stroke="#cfdf1d" stroke-width="0.78" fill="none"/>
<path d="M115.16 189.72l3.5 3.5m-3.5 0l3.5-3.5" stroke="#d4e01a" stroke-width="0.78" fill="none"/>
<path d="M118.61 190.67l3.5 3.5m-3.5 0l3.5-3.5" stroke="#dede19" stroke-width="0.78" fill="none"/>
<path d="M115.84 191.06l3.5 3.5m-3.5 0l3.5-3.5" stroke="#d5e01a" stroke-width="0.78" fill="none"/>
<path d="M116.68 190.13l3.5 3.5m-3.5 0l3.5-3.5" stroke="#d6e119" stroke-width="0.78" fill="none"/>
<path d="M116.11 190.30l3.5 3.5m-3.5 0l3.5-3.5" stroke="#d5e11a" stroke-width="0.78" fill="none"/>
<path d="M128.92 197.50l3.5 3.5m-3.5 0l3.5-3.5M128.95 191.40l3.5 3.5m-3.5 0l3.5-3.5M129.15 174.65l3.5 3.5m-3.5 0l3.5-3.5" stroke="#f2d30c" stroke-width="0.78" fill="none"/>
<path d="M125.31 190.80l3.5 3.5m-3.5 0l3.5-3.5" stroke="#f0d512" stroke-width="0.78" fill="none"/>
<path d="M123.65 188.56l3.5 3.5m-3.5 0l3.5-3.5M123.87 192.92l3.5 3.5m-3.5 0l3.5-3.5M124.03 188.93l3.5 3.5m-3.5 0l3.5-3.5" stroke="#efd615" stroke-width="0.78" fill="none"/>
<path d="M122.85 189.38l3.5 3.5m-3.5 0l3.5-3.5M122.58 193.94l3.5 3.5m-3.5 0l3.5-3.5" stroke="#efd617" stroke-width="0.78" fill="none"/>
<path d="M120.75 191.35l3.5 3.5m-3.5 0l3.5-3.5" stroke="#ead919" stroke-width="0.78" fill="none"/>
<path d="M126.27 195.14l3.5 3.5m-3.5 0l3.5-3.5M126.15 188.95l3.5 3.5m-3.5 0l3.5-3.5M126.01 195.30l3.5 3.5m-3.5 0l3.5-3.5" stroke="#f0d511" stroke-width="0.78" fill="none"/>
<path d="M128.20 192.13l3.5 3.5m-3.5 0l3.5-3.5" stroke="#f1d40d" stroke-width="0.78" fill="none"/>
<path d="M123.39 197.61l3.5 3.5m-3.5 0l3.5-3.5" stroke="#efd616" stroke-width="0.78" fill="none"/>
<path d="M121.85 195.21l3.5 3.5m-3.5 0l3.5-3.5" stroke="#eed718" stroke-width="0.78" fill="none"/>
<path d="M127.82 196.76l3.5 3.5m-3.5 0l3.5-3.5M127.62 189.83l3.5 3.5m-3.5 0l3.5-3.5M127.81 195.95l3.5 3.5m-3.5 0l3.5-3.5" stroke="#f1d40e" stroke-width="0.78" fill="none"/>
<path d="M136.10 191.70l3.5 3.5m-3.5 0l3.5-3.5M136.14 191.57l3.5 3.5m-3.5 0l3.5-3.5" stroke="#f5cf02" stroke-width="0.78" fill="none"/>
<path d="M136.39 192.24l3.5 3.5m-3.5 0l3.5-3.5" stroke="#f5cd06" stroke-width="0.78" fill="none"/>
<path d="M135.53 189.79l3.5 3.5m-3.5 0l3.5-3.5M135.25 191.93l3.5 3.5m-3.5 0l3.5-3.5M135.48 191.19l3.5 3.5m-3.5 0l3.5-3.5M135.49 192.69l3.5 3.5m-3.5 0l3.5-3.5M135.20 192.02l3.5 3.5m-3.5 0l3.5-3.5M135.25 206.75l3.5 3.5m-3.5 0l3.5-3.5" stroke="#f5d001" stroke-width="0.78" fill="none"/>
<path d="M132.68 189.27l3.5 3.5m-3.5 0l3.5-3.5M132.56 192.86l3.5 3.5m-3.5 0l3.5-3.5M132.65 181.55l3.5 3.5m-3.5 0l3.5-3.5" stroke="#f3d206" stroke-width="0.78" fill="none"/>
<path d="M134.10 189.12l3.5 3.5m-3.5 0l3.5-3.5M134.20 191.14l3.5 3.5m-3.5 0l3.5-3.5" stroke="#f4d103" stroke-width="0.78" fill="none"/>
<path d="M134.85 192.11l3.5 3.5m-3.5 0l3.5-3.5" stroke="#f4d102" stroke-width="0.78" fill="none"/>
<path d="M132.83 192.53l3.5 3.5m-3.5 0l3.5-3.5M132.88 189.35l3.5 3.5m-3.5 0l3.5-3.5" stroke="#f3d205" stroke-width="0.78" fill="none"/>
<path d="M136.75 191.22l3.5 3.5m-3.5 0l3.5-3.5" stroke="#f5ca0b" stroke-width="0.78" fill="none"/>
<path d="M132.15 178.55l3.5 3.5m-3.5 0l3.5-3.5" stroke="#f3d207" stroke-width="0.78" fill="none"/>
<path d="M131.25 206.75l3.5 3.5m-3.5 0l3.5-3.5" stroke="#f3d208" stroke-width="0.78" fill="none"/>
<path d="M138.25 206.75l3.5 3.5m-3.5 0l3.5-3.5" stroke="#f5be21" stroke-width="0.78" fill="none"/>
<path d="M147.11 189.40l3.5 3.5m-3.5 0l3.5-3.5M147.17 188.32l3.5 3.5m-3.5 0l3.5-3.5" stroke="#f79822" stroke-width="0.78" fill="none"/>
<path d="M147.63 205.23l3.5 3.5m-3.5 0l3.5-3.5M147.70 203.83l3.5 3.5m-3.5 0l3.5-3.5" stroke="#f79620" stroke-width="0.78" fill="none"/>
<path d="M151.64 188.58l3.5 3.5m-3.5 0l3.5-3.5M151.79 196.79l3.5 3.5m-3.5 0l3.5-3.5M151.68 192.25l3.5 3.5m-3.5 0l3.5-3.5" stroke="#f7931f" stroke-width="0.78" fill="none"/>
<path d="M151.45 197.49l3.5 3.5m-3.5 0l3.5-3.5" stroke="#f7941f" stroke-width="0.78" fill="none"/>
<path d="M159.58 193.82l3.5 3.5m-3.5 0l3.5-3.5M159.37 193.96l3.5 3.5m-3.5 0l3.5-3.5M159.60 196.07l3.5 3.5m-3.5 0l3.5-3.5M160.85 206.05l3.5 3.5m-3.5 0l3.5-3.5" stroke="#f69224" stroke-width="0.78" fill="none"/>
<path d="M157.85 192.44l3.5 3.5m-3.5 0l3.5-3.5M158.03 195.99l3.5 3.5m-3.5 0l3.5-3.5" stroke="#f69223" stroke-width="0.78" fill="none"/>
<path d="M154.76 195.59l3.5 3.5m-3.5 0l3.5-3.5M154.95 207.05l3.5 3.5m-3.5 0l3.5-3.5" stroke="#f69321" stroke-width="0.78" fill="none"/>
<path d="M162.05 193.01l3.5 3.5m-3.5 0l3.5-3.5" stroke="#f69225" stroke-width="0.78" fill="none"/>
<path d="M164.18 195.90l3.5 3.5m-3.5 0l3.5-3.5" stroke="#f59126" stroke-width="0.78" fill="none"/>
<path d="M169.69 194.45l3.5 3.5m-3.5 0l3.5-3.5M169.75 199.15l3.5 3.5m-3.5 0l3.5-3.5" stroke="#f38428" stroke-width="0.78" fill="none"/>
<path d="M162.35 174.65l3.5 3.5m-3.5 0l3.5-3.5" stroke="#f59225" stroke-width="0.78" fill="none"/>
<path d="M166.35 182.05l3.5 3.5m-3.5 0l3.5-3.5M166.85 182.55l3.5 3.5m-3.5 0l3.5-3.5" stroke="#f59128" stroke-width="0.78" fill="none"/>
<path d="M171.75 167.25l3.5 3.5m-3.5 0l3.5-3.5" stroke="#f27b29" stroke-width="0.78" fill="none"/>
<path d="M177.75 166.75l3.5 3.5m-3.5 0l3.5-3.5M177.75 178.15l3.5 3.5m-3.5 0l3.5-3.5M177.75 184.55l3.5 3.5m-3.5 0l3.5-3.5" stroke="#ed5f2a" stroke-width="0.78" fill="none"/>
<path d="M175.75 172.65l3.5 3.5m-3.5 0l3.5-3.5M175.75 203.05l3.5 3.5m-3.5 0l3.5-3.5" stroke="#ef6929" stroke-width="0.78" fill="none"/>
<path d="M173.75 178.55l3.5 3.5m-3.5 0l3.5-3.5" stroke="#f07229" stroke-width="0.78" fill="none"/>
<path d="M195.55 174.15l3.5 3.5m-3.5 0l3.5-3.5M197.14 200.82l3.5 3.5m-3.5 0l3.5-3.5M195.87 194.95l3.5 3.5m-3.5 0l3.5-3.5M196.70 194.12l3.5 3.5m-3.5 0l3.5-3.5M196.26 195.94l3.5 3.5m-3.5 0l3.5-3.5M195.99 192.54l3.5 3.5m-3.5 0l3.5-3.5M195.77 190.97l3.5 3.5m-3.5 0l3.5-3.5M196.31 205.55l3.5 3.5m-3.5 0l3.5-3.5M197.12 196.30l3.5 3.5m-3.5 0l3.5-3.5M195.61 198.47l3.5 3.5m-3.5 0l3.5-3.5M195.45 194.84l3.5 3.5m-3.5 0l3.5-3.5" stroke="#ec5729" stroke-width="0.78" fill="none"/>
<path d="M141.05 193.25l3.5 3.5m-3.5 0l3.5-3.5M141.05 199.15l3.5 3.5m-3.5 0l3.5-3.5" stroke="#f5ac38" stroke-width="0.78" fill="none"/>
<path d="M174.75 199.15l3.5 3.5m-3.5 0l3.5-3.5" stroke="#ef6d29" stroke-width="0.78" fill="none"/>
<path d="M176.75 205.05l3.5 3.5m-3.5 0l3.5-3.5" stroke="#ee642a" stroke-width="0.78" fill="none"/>
<path d="M214.05 170.25l3.5 3.5m-3.5 0l3.5-3.5M214.05 204.05l3.5 3.5m-3.5 0l3.5-3.5" stroke="#ee5227" stroke-width="0.78" fill="none"/>
<path d="M222.95 165.25l3.5 3.5m-3.5 0l3.5-3.5M222.44 177.89l3.5 3.5m-3.5 0l3.5-3.5M222.81 175.68l3.5 3.5m-3.5 0l3.5-3.5" stroke="#ee4f26" stroke-width="0.78" fill="none"/>
<path d="M211.55 185.05l3.5 3.5m-3.5 0l3.5-3.5" stroke="#ed5327" stroke-width="0.78" fill="none"/>
<path d="M231.35 179.55l3.5 3.5m-3.5 0l3.5-3.5M232.35 182.05l3.5 3.5m-3.5 0l3.5-3.5M231.85 194.65l3.5 3.5m-3.5 0l3.5-3.5" stroke="#ed4d26" stroke-width="0.78" fill="none"/>
<path d="M248.65 189.25l3.5 3.5m-3.5 0l3.5-3.5" stroke="#ec4c27" stroke-width="0.78" fill="none"/>
<path d="M258.55 203.05l3.5 3.5m-3.5 0l3.5-3.5" stroke="#ec4e28" stroke-width="0.78" fill="none"/>
<path d="M191.59 91.25l3.5 3.5m-3.5 0l3.5-3.5M191.20 93.75l3.5 3.5m-3.5 0l3.5-3.5M191.20 96.25l3.5 3.5m-3.5 0l3.5-3.5M191.31 98.75l3.5 3.5m-3.5 0l3.5-3.5M191.69 101.25l3.5 3.5m-3.5 0l3.5-3.5M191.49 103.75l3.5 3.5m-3.5 0l3.5-3.5M191.40 106.25l3.5 3.5m-3.5 0l3.5-3.5M191.62 108.75l3.5 3.5m-3.5 0l3.5-3.5" stroke="#f07f3c" stroke-width="0.78" fill="none"/>
<rect x="688.9" y="60.0" width="2.2" height="30.0" fill="#e91b24" opacity="0.95"/>
<rect x="573.0" y="148.6" width="1.4" height="7.3" fill="#ee5126" opacity="0.95"/>
<rect x="596.1" y="141.0" width="1.3" height="24.0" fill="#ec4a26" opacity="0.95"/>
<rect x="619.3" y="138.7" width="2.2" height="29.8" fill="#ea1c24" opacity="0.95"/>
<path d="M410.15 47.85l3.5 3.5m-3.5 0l3.5-3.5M409.97 108.44l3.5 3.5m-3.5 0l3.5-3.5M410.02 114.80l3.5 3.5m-3.5 0l3.5-3.5M409.99 150.24l3.5 3.5m-3.5 0l3.5-3.5" stroke="#29a83e" stroke-width="0.78" fill="none"/>
<path d="M412.45 52.75l3.5 3.5m-3.5 0l3.5-3.5M412.63 172.47l3.5 3.5m-3.5 0l3.5-3.5" stroke="#31ab3d" stroke-width="0.78" fill="none"/>
<path d="M409.45 56.35l3.5 3.5m-3.5 0l3.5-3.5M409.55 66.05l3.5 3.5m-3.5 0l3.5-3.5M409.19 118.66l3.5 3.5m-3.5 0l3.5-3.5M408.97 114.24l3.5 3.5m-3.5 0l3.5-3.5M408.68 109.00l3.5 3.5m-3.5 0l3.5-3.5M408.36 133.25l3.5 3.5m-3.5 0l3.5-3.5M408.68 134.85l3.5 3.5m-3.5 0l3.5-3.5M408.47 131.06l3.5 3.5m-3.5 0l3.5-3.5M409.10 136.89l3.5 3.5m-3.5 0l3.5-3.5M409.32 135.76l3.5 3.5m-3.5 0l3.5-3.5M409.27 137.54l3.5 3.5m-3.5 0l3.5-3.5M409.35 136.21l3.5 3.5m-3.5 0l3.5-3.5M408.82 131.04l3.5 3.5m-3.5 0l3.5-3.5M409.30 131.10l3.5 3.5m-3.5 0l3.5-3.5M409.53 123.36l3.5 3.5m-3.5 0l3.5-3.5M408.98 125.41l3.5 3.5m-3.5 0l3.5-3.5M408.44 145.27l3.5 3.5m-3.5 0l3.5-3.5M409.52 146.02l3.5 3.5m-3.5 0l3.5-3.5" stroke="#28a83e" stroke-width="0.78" fill="none"/>
<path d="M417.85 60.15l3.5 3.5m-3.5 0l3.5-3.5" stroke="#4ab33c" stroke-width="0.78" fill="none"/>
<path d="M420.15 62.45l3.5 3.5m-3.5 0l3.5-3.5M420.20 72.56l3.5 3.5m-3.5 0l3.5-3.5M420.15 125.55l3.5 3.5m-3.5 0l3.5-3.5" stroke="#5bb83d" stroke-width="0.78" fill="none"/>
<path d="M444.75 62.45l3.5 3.5m-3.5 0l3.5-3.5M444.75 103.25l3.5 3.5m-3.5 0l3.5-3.5" stroke="#a6cf3a" stroke-width="0.78" fill="none"/>
<path d="M460.95 50.15l3.5 3.5m-3.5 0l3.5-3.5M460.95 152.85l3.5 3.5m-3.5 0l3.5-3.5" stroke="#cadd24" stroke-width="0.78" fill="none"/>
<path d="M463.75 55.25l3.5 3.5m-3.5 0l3.5-3.5" stroke="#cdde1e" stroke-width="0.78" fill="none"/>
<path d="M511.45 33.25l3.5 3.5m-3.5 0l3.5-3.5M510.49 48.95l3.5 3.5m-3.5 0l3.5-3.5M510.29 50.17l3.5 3.5m-3.5 0l3.5-3.5M510.48 52.60l3.5 3.5m-3.5 0l3.5-3.5M510.69 53.82l3.5 3.5m-3.5 0l3.5-3.5M510.35 57.75l3.5 3.5m-3.5 0l3.5-3.5M510.35 60.35l3.5 3.5m-3.5 0l3.5-3.5M510.35 62.95l3.5 3.5m-3.5 0l3.5-3.5M510.35 65.55l3.5 3.5m-3.5 0l3.5-3.5M510.35 67.65l3.5 3.5m-3.5 0l3.5-3.5M510.35 69.85l3.5 3.5m-3.5 0l3.5-3.5M510.29 73.17l3.5 3.5m-3.5 0l3.5-3.5M510.50 74.38l3.5 3.5m-3.5 0l3.5-3.5M510.59 76.82l3.5 3.5m-3.5 0l3.5-3.5M510.54 78.03l3.5 3.5m-3.5 0l3.5-3.5M510.35 79.25l3.5 3.5m-3.5 0l3.5-3.5" stroke="#f69322" stroke-width="0.78" fill="none"/>
<path d="M502.55 54.15l3.5 3.5m-3.5 0l3.5-3.5M502.96 83.95l3.5 3.5m-3.5 0l3.5-3.5M503.37 86.25l3.5 3.5m-3.5 0l3.5-3.5M503.36 88.55l3.5 3.5m-3.5 0l3.5-3.5M503.15 93.25l3.5 3.5m-3.5 0l3.5-3.5M502.89 94.58l3.5 3.5m-3.5 0l3.5-3.5M502.91 95.90l3.5 3.5m-3.5 0l3.5-3.5M503.16 97.22l3.5 3.5m-3.5 0l3.5-3.5M503.24 107.95l3.5 3.5m-3.5 0l3.5-3.5M502.95 109.53l3.5 3.5m-3.5 0l3.5-3.5M502.77 111.10l3.5 3.5m-3.5 0l3.5-3.5M503.09 112.67l3.5 3.5m-3.5 0l3.5-3.5M502.66 114.25l3.5 3.5m-3.5 0l3.5-3.5M503.17 149.75l3.5 3.5m-3.5 0l3.5-3.5M503.42 150.88l3.5 3.5m-3.5 0l3.5-3.5M502.69 153.06l3.5 3.5m-3.5 0l3.5-3.5" stroke="#f7941d" stroke-width="0.78" fill="none"/>
<path d="M512.45 58.25l3.5 3.5m-3.5 0l3.5-3.5M513.05 170.75l3.5 3.5m-3.5 0l3.5-3.5" stroke="#f69223" stroke-width="0.78" fill="none"/>
<path d="M525.95 56.75l3.5 3.5m-3.5 0l3.5-3.5M525.95 75.05l3.5 3.5m-3.5 0l3.5-3.5M525.95 81.85l3.5 3.5m-3.5 0l3.5-3.5" stroke="#f27b29" stroke-width="0.78" fill="none"/>
<path d="M522.25 69.25l3.5 3.5m-3.5 0l3.5-3.5" stroke="#f48c28" stroke-width="0.78" fill="none"/>
<path d="M549.45 39.85l3.5 3.5m-3.5 0l3.5-3.5M549.25 53.65l3.5 3.5m-3.5 0l3.5-3.5M548.85 123.65l3.5 3.5m-3.5 0l3.5-3.5M548.85 126.55l3.5 3.5m-3.5 0l3.5-3.5M549.24 132.85l3.5 3.5m-3.5 0l3.5-3.5M548.91 134.71l3.5 3.5m-3.5 0l3.5-3.5M548.74 136.57l3.5 3.5m-3.5 0l3.5-3.5M549.06 138.43l3.5 3.5m-3.5 0l3.5-3.5M548.80 140.29l3.5 3.5m-3.5 0l3.5-3.5M548.59 142.15l3.5 3.5m-3.5 0l3.5-3.5M548.66 147.98l3.5 3.5m-3.5 0l3.5-3.5M547.97 151.62l3.5 3.5m-3.5 0l3.5-3.5M548.97 146.72l3.5 3.5m-3.5 0l3.5-3.5M549.33 164.84l3.5 3.5m-3.5 0l3.5-3.5M548.11 163.15l3.5 3.5m-3.5 0l3.5-3.5M549.25 171.45l3.5 3.5m-3.5 0l3.5-3.5" stroke="#ec572a" stroke-width="0.78" fill="none"/>
<path d="M557.85 44.05l3.5 3.5m-3.5 0l3.5-3.5M557.65 44.25l3.5 3.5m-3.5 0l3.5-3.5M557.65 51.05l3.5 3.5m-3.5 0l3.5-3.5M557.36 56.75l3.5 3.5m-3.5 0l3.5-3.5M557.29 58.50l3.5 3.5m-3.5 0l3.5-3.5M557.30 60.25l3.5 3.5m-3.5 0l3.5-3.5" stroke="#ed5528" stroke-width="0.78" fill="none"/>
<path d="M510.16 51.38l3.5 3.5m-3.5 0l3.5-3.5M510.13 55.03l3.5 3.5m-3.5 0l3.5-3.5M509.98 56.25l3.5 3.5m-3.5 0l3.5-3.5M510.22 71.95l3.5 3.5m-3.5 0l3.5-3.5M510.11 75.60l3.5 3.5m-3.5 0l3.5-3.5M509.53 148.74l3.5 3.5m-3.5 0l3.5-3.5M509.51 148.39l3.5 3.5m-3.5 0l3.5-3.5M509.63 151.11l3.5 3.5m-3.5 0l3.5-3.5M508.85 157.95l3.5 3.5m-3.5 0l3.5-3.5" stroke="#f69321" stroke-width="0.78" fill="none"/>
<path d="M536.61 60.35l3.5 3.5m-3.5 0l3.5-3.5M537.23 61.93l3.5 3.5m-3.5 0l3.5-3.5M536.70 63.51l3.5 3.5m-3.5 0l3.5-3.5M537.11 65.09l3.5 3.5m-3.5 0l3.5-3.5M536.63 66.67l3.5 3.5m-3.5 0l3.5-3.5M536.63 68.25l3.5 3.5m-3.5 0l3.5-3.5M536.35 67.85l3.5 3.5m-3.5 0l3.5-3.5M536.56 71.95l3.5 3.5m-3.5 0l3.5-3.5M536.19 73.21l3.5 3.5m-3.5 0l3.5-3.5M536.71 74.47l3.5 3.5m-3.5 0l3.5-3.5M536.35 75.73l3.5 3.5m-3.5 0l3.5-3.5M536.10 76.99l3.5 3.5m-3.5 0l3.5-3.5M536.13 78.25l3.5 3.5m-3.5 0l3.5-3.5M545.65 50.55l3.5 3.5m-3.5 0l3.5-3.5M545.65 53.65l3.5 3.5m-3.5 0l3.5-3.5M545.58 55.75l3.5 3.5m-3.5 0l3.5-3.5M545.78 57.13l3.5 3.5m-3.5 0l3.5-3.5M546.01 58.52l3.5 3.5m-3.5 0l3.5-3.5M545.37 59.90l3.5 3.5m-3.5 0l3.5-3.5M545.56 61.28l3.5 3.5m-3.5 0l3.5-3.5M545.42 62.67l3.5 3.5m-3.5 0l3.5-3.5M546.03 64.05l3.5 3.5m-3.5 0l3.5-3.5M545.65 66.05l3.5 3.5m-3.5 0l3.5-3.5M545.65 68.25l3.5 3.5m-3.5 0l3.5-3.5M545.15 67.85l3.5 3.5m-3.5 0l3.5-3.5M535.85 89.65l3.5 3.5m-3.5 0l3.5-3.5M533.75 91.65l3.5 3.5m-3.5 0l3.5-3.5M543.05 83.95l3.5 3.5m-3.5 0l3.5-3.5M534.75 93.35l3.5 3.5m-3.5 0l3.5-3.5M535.85 95.45l3.5 3.5m-3.5 0l3.5-3.5M546.75 100.65l3.5 3.5m-3.5 0l3.5-3.5M535.25 115.25l3.5 3.5m-3.5 0l3.5-3.5M534.95 116.15l3.5 3.5m-3.5 0l3.5-3.5M540.15 129.45l3.5 3.5m-3.5 0l3.5-3.5M540.15 138.05l3.5 3.5m-3.5 0l3.5-3.5M534.45 140.35l3.5 3.5m-3.5 0l3.5-3.5M537.15 147.65l3.5 3.5m-3.5 0l3.5-3.5M536.55 153.35l3.5 3.5m-3.5 0l3.5-3.5M547.48 154.25l3.5 3.5m-3.5 0l3.5-3.5M547.48 149.56l3.5 3.5m-3.5 0l3.5-3.5M547.51 148.12l3.5 3.5m-3.5 0l3.5-3.5M542.95 159.75l3.5 3.5m-3.5 0l3.5-3.5M541.75 167.25l3.5 3.5m-3.5 0l3.5-3.5M542.75 170.75l3.5 3.5m-3.5 0l3.5-3.5" stroke="#ec582a" stroke-width="0.78" fill="none"/>
<path d="M549.85 58.25l3.5 3.5m-3.5 0l3.5-3.5M550.35 113.05l3.5 3.5m-3.5 0l3.5-3.5M550.55 113.25l3.5 3.5m-3.5 0l3.5-3.5M549.67 147.75l3.5 3.5m-3.5 0l3.5-3.5M550.76 149.97l3.5 3.5m-3.5 0l3.5-3.5M550.82 165.82l3.5 3.5m-3.5 0l3.5-3.5M549.95 161.60l3.5 3.5m-3.5 0l3.5-3.5M551.21 163.43l3.5 3.5m-3.5 0l3.5-3.5" stroke="#ec5729" stroke-width="0.78" fill="none"/>
<path d="M554.55 67.65l3.5 3.5m-3.5 0l3.5-3.5M554.55 67.25l3.5 3.5m-3.5 0l3.5-3.5" stroke="#ed5629" stroke-width="0.78" fill="none"/>
<path d="M503.65 71.95l3.5 3.5m-3.5 0l3.5-3.5M503.65 90.75l3.5 3.5m-3.5 0l3.5-3.5M502.53 98.55l3.5 3.5m-3.5 0l3.5-3.5M503.65 145.85l3.5 3.5m-3.5 0l3.5-3.5M504.98 150.50l3.5 3.5m-3.5 0l3.5-3.5M504.78 153.29l3.5 3.5m-3.5 0l3.5-3.5M504.49 150.11l3.5 3.5m-3.5 0l3.5-3.5M504.25 162.65l3.5 3.5m-3.5 0l3.5-3.5" stroke="#f7941e" stroke-width="0.78" fill="none"/>
<path d="M495.85 90.65l3.5 3.5m-3.5 0l3.5-3.5" stroke="#f5aa37" stroke-width="0.78" fill="none"/>
<path d="M522.54 68.85l3.5 3.5m-3.5 0l3.5-3.5" stroke="#f48b28" stroke-width="0.78" fill="none"/>
<path d="M522.75 70.40l3.5 3.5m-3.5 0l3.5-3.5M522.70 71.95l3.5 3.5m-3.5 0l3.5-3.5" stroke="#f48a28" stroke-width="0.78" fill="none"/>
<path d="M522.21 73.50l3.5 3.5m-3.5 0l3.5-3.5M522.10 75.05l3.5 3.5m-3.5 0l3.5-3.5" stroke="#f48d28" stroke-width="0.78" fill="none"/>
<path d="M526.45 77.65l3.5 3.5m-3.5 0l3.5-3.5" stroke="#f17929" stroke-width="0.78" fill="none"/>
<path d="M531.65 80.25l3.5 3.5m-3.5 0l3.5-3.5" stroke="#ed612a" stroke-width="0.78" fill="none"/>
<path d="M528.55 84.45l3.5 3.5m-3.5 0l3.5-3.5M528.56 148.50l3.5 3.5m-3.5 0l3.5-3.5" stroke="#f06f29" stroke-width="0.78" fill="none"/>
<path d="M532.15 88.05l3.5 3.5m-3.5 0l3.5-3.5" stroke="#ed5f2a" stroke-width="0.78" fill="none"/>
<path d="M556.40 75.55l3.5 3.5m-3.5 0l3.5-3.5M556.25 76.85l3.5 3.5m-3.5 0l3.5-3.5M555.68 78.15l3.5 3.5m-3.5 0l3.5-3.5M556.18 79.45l3.5 3.5m-3.5 0l3.5-3.5M555.95 80.75l3.5 3.5m-3.5 0l3.5-3.5M555.95 82.05l3.5 3.5m-3.5 0l3.5-3.5M555.92 83.35l3.5 3.5m-3.5 0l3.5-3.5M555.79 84.65l3.5 3.5m-3.5 0l3.5-3.5M555.65 85.95l3.5 3.5m-3.5 0l3.5-3.5M555.87 87.25l3.5 3.5m-3.5 0l3.5-3.5M555.93 88.55l3.5 3.5m-3.5 0l3.5-3.5M555.25 141.55l3.5 3.5m-3.5 0l3.5-3.5" stroke="#ed5529" stroke-width="0.78" fill="none"/>
<path d="M551.95 87.55l3.5 3.5m-3.5 0l3.5-3.5M552.45 94.45l3.5 3.5m-3.5 0l3.5-3.5M551.95 97.55l3.5 3.5m-3.5 0l3.5-3.5M552.95 101.15l3.5 3.5m-3.5 0l3.5-3.5M552.02 152.35l3.5 3.5m-3.5 0l3.5-3.5M552.07 152.89l3.5 3.5m-3.5 0l3.5-3.5M552.73 163.23l3.5 3.5m-3.5 0l3.5-3.5M551.67 166.88l3.5 3.5m-3.5 0l3.5-3.5M551.96 165.42l3.5 3.5m-3.5 0l3.5-3.5M552.41 165.25l3.5 3.5m-3.5 0l3.5-3.5" stroke="#ec5629" stroke-width="0.78" fill="none"/>
<path d="M559.75 85.45l3.5 3.5m-3.5 0l3.5-3.5M560.95 121.35l3.5 3.5m-3.5 0l3.5-3.5M560.25 152.25l3.5 3.5m-3.5 0l3.5-3.5M560.25 161.45l3.5 3.5m-3.5 0l3.5-3.5" stroke="#ed5428" stroke-width="0.78" fill="none"/>
<path d="M569.95 56.25l3.5 3.5m-3.5 0l3.5-3.5M570.95 94.75l3.5 3.5m-3.5 0l3.5-3.5M570.95 97.05l3.5 3.5m-3.5 0l3.5-3.5M571.02 151.46l3.5 3.5m-3.5 0l3.5-3.5" stroke="#ee5127" stroke-width="0.78" fill="none"/>
<path d="M572.05 60.35l3.5 3.5m-3.5 0l3.5-3.5M571.75 73.65l3.5 3.5m-3.5 0l3.5-3.5M571.75 82.85l3.5 3.5m-3.5 0l3.5-3.5M571.75 88.25l3.5 3.5m-3.5 0l3.5-3.5M571.75 94.45l3.5 3.5m-3.5 0l3.5-3.5M572.14 124.75l3.5 3.5m-3.5 0l3.5-3.5M571.59 128.23l3.5 3.5m-3.5 0l3.5-3.5M572.21 131.71l3.5 3.5m-3.5 0l3.5-3.5M571.75 135.19l3.5 3.5m-3.5 0l3.5-3.5M572.06 138.67l3.5 3.5m-3.5 0l3.5-3.5M572.34 142.15l3.5 3.5m-3.5 0l3.5-3.5M571.95 145.85l3.5 3.5m-3.5 0l3.5-3.5M571.95 146.95l3.5 3.5m-3.5 0l3.5-3.5M571.95 148.05l3.5 3.5m-3.5 0l3.5-3.5M571.95 149.15l3.5 3.5m-3.5 0l3.5-3.5M571.95 150.25l3.5 3.5m-3.5 0l3.5-3.5M571.95 151.35l3.5 3.5m-3.5 0l3.5-3.5M571.95 152.45l3.5 3.5m-3.5 0l3.5-3.5M571.95 153.55l3.5 3.5m-3.5 0l3.5-3.5M571.95 154.65l3.5 3.5m-3.5 0l3.5-3.5M571.69 153.21l3.5 3.5m-3.5 0l3.5-3.5M572.45 150.50l3.5 3.5m-3.5 0l3.5-3.5M572.29 150.16l3.5 3.5m-3.5 0l3.5-3.5M571.70 152.74l3.5 3.5m-3.5 0l3.5-3.5M572.45 172.75l3.5 3.5m-3.5 0l3.5-3.5" stroke="#ee5126" stroke-width="0.78" fill="none"/>
<path d="M573.15 67.65l3.5 3.5m-3.5 0l3.5-3.5M573.25 159.25l3.5 3.5m-3.5 0l3.5-3.5M573.25 162.25l3.5 3.5m-3.5 0l3.5-3.5M575.25 164.85l3.5 3.5m-3.5 0l3.5-3.5M576.35 161.75l3.5 3.5m-3.5 0l3.5-3.5" stroke="#ee5026" stroke-width="0.78" fill="none"/>
<path d="M588.65 51.55l3.5 3.5m-3.5 0l3.5-3.5M589.85 99.75l3.5 3.5m-3.5 0l3.5-3.5M588.65 164.25l3.5 3.5m-3.5 0l3.5-3.5M588.65 164.45l3.5 3.5m-3.5 0l3.5-3.5" stroke="#ed4c26" stroke-width="0.78" fill="none"/>
<path d="M598.41 56.25l3.5 3.5m-3.5 0l3.5-3.5M598.42 58.85l3.5 3.5m-3.5 0l3.5-3.5M597.94 61.45l3.5 3.5m-3.5 0l3.5-3.5M598.31 62.75l3.5 3.5m-3.5 0l3.5-3.5M598.31 64.05l3.5 3.5m-3.5 0l3.5-3.5M598.05 66.05l3.5 3.5m-3.5 0l3.5-3.5M598.70 77.45l3.5 3.5m-3.5 0l3.5-3.5M598.84 79.00l3.5 3.5m-3.5 0l3.5-3.5M599.27 80.55l3.5 3.5m-3.5 0l3.5-3.5M598.57 82.10l3.5 3.5m-3.5 0l3.5-3.5M598.88 83.65l3.5 3.5m-3.5 0l3.5-3.5M599.20 85.20l3.5 3.5m-3.5 0l3.5-3.5M599.16 86.75l3.5 3.5m-3.5 0l3.5-3.5M591.75 149.75l3.5 3.5m-3.5 0l3.5-3.5M591.11 150.38l3.5 3.5m-3.5 0l3.5-3.5M591.64 151.67l3.5 3.5m-3.5 0l3.5-3.5M591.38 150.55l3.5 3.5m-3.5 0l3.5-3.5M593.28 151.32l3.5 3.5m-3.5 0l3.5-3.5M593.15 150.90l3.5 3.5m-3.5 0l3.5-3.5" stroke="#ec4b26" stroke-width="0.78" fill="none"/>
<path d="M597.75 57.55l3.5 3.5m-3.5 0l3.5-3.5M597.82 60.15l3.5 3.5m-3.5 0l3.5-3.5M595.25 89.05l3.5 3.5m-3.5 0l3.5-3.5M595.12 124.75l3.5 3.5m-3.5 0l3.5-3.5M595.18 128.50l3.5 3.5m-3.5 0l3.5-3.5M594.90 132.25l3.5 3.5m-3.5 0l3.5-3.5M595.48 128.25l3.5 3.5m-3.5 0l3.5-3.5M595.42 131.30l3.5 3.5m-3.5 0l3.5-3.5M595.35 134.36l3.5 3.5m-3.5 0l3.5-3.5M595.05 137.41l3.5 3.5m-3.5 0l3.5-3.5M595.19 140.46l3.5 3.5m-3.5 0l3.5-3.5M595.21 143.52l3.5 3.5m-3.5 0l3.5-3.5M595.35 146.57l3.5 3.5m-3.5 0l3.5-3.5M595.18 149.62l3.5 3.5m-3.5 0l3.5-3.5M595.39 152.68l3.5 3.5m-3.5 0l3.5-3.5M595.59 155.73l3.5 3.5m-3.5 0l3.5-3.5M595.00 158.78l3.5 3.5m-3.5 0l3.5-3.5M595.37 161.84l3.5 3.5m-3.5 0l3.5-3.5M595.47 164.89l3.5 3.5m-3.5 0l3.5-3.5M595.16 167.94l3.5 3.5m-3.5 0l3.5-3.5M595.24 171.00l3.5 3.5m-3.5 0l3.5-3.5M595.63 174.05l3.5 3.5m-3.5 0l3.5-3.5M595.05 138.25l3.5 3.5m-3.5 0l3.5-3.5M595.05 139.35l3.5 3.5m-3.5 0l3.5-3.5M595.05 140.45l3.5 3.5m-3.5 0l3.5-3.5M595.05 141.55l3.5 3.5m-3.5 0l3.5-3.5M595.05 142.65l3.5 3.5m-3.5 0l3.5-3.5M595.05 143.75l3.5 3.5m-3.5 0l3.5-3.5M595.05 144.85l3.5 3.5m-3.5 0l3.5-3.5M595.05 145.95l3.5 3.5m-3.5 0l3.5-3.5M595.05 147.05l3.5 3.5m-3.5 0l3.5-3.5M595.05 148.15l3.5 3.5m-3.5 0l3.5-3.5M595.05 149.25l3.5 3.5m-3.5 0l3.5-3.5M595.05 150.35l3.5 3.5m-3.5 0l3.5-3.5M595.05 151.45l3.5 3.5m-3.5 0l3.5-3.5M595.05 152.55l3.5 3.5m-3.5 0l3.5-3.5M595.05 153.65l3.5 3.5m-3.5 0l3.5-3.5M595.05 154.75l3.5 3.5m-3.5 0l3.5-3.5M595.05 155.85l3.5 3.5m-3.5 0l3.5-3.5M595.05 156.95l3.5 3.5m-3.5 0l3.5-3.5M595.05 158.05l3.5 3.5m-3.5 0l3.5-3.5M595.05 159.15l3.5 3.5m-3.5 0l3.5-3.5M595.05 160.25l3.5 3.5m-3.5 0l3.5-3.5M595.05 161.35l3.5 3.5m-3.5 0l3.5-3.5M595.05 162.45l3.5 3.5m-3.5 0l3.5-3.5M595.05 163.55l3.5 3.5m-3.5 0l3.5-3.5M594.99 150.25l3.5 3.5m-3.5 0l3.5-3.5M594.51 150.27l3.5 3.5m-3.5 0l3.5-3.5" stroke="#ec4a26" stroke-width="0.78" fill="none"/>
<path d="M612.55 56.25l3.5 3.5m-3.5 0l3.5-3.5M612.75 73.15l3.5 3.5m-3.5 0l3.5-3.5M612.75 84.35l3.5 3.5m-3.5 0l3.5-3.5M612.75 93.05l3.5 3.5m-3.5 0l3.5-3.5M612.45 93.25l3.5 3.5m-3.5 0l3.5-3.5" stroke="#ec4e28" stroke-width="0.78" fill="none"/>
<path d="M688.25 32.65l3.5 3.5m-3.5 0l3.5-3.5M688.25 34.95l3.5 3.5m-3.5 0l3.5-3.5M688.25 40.65l3.5 3.5m-3.5 0l3.5-3.5M688.25 42.45l3.5 3.5m-3.5 0l3.5-3.5M688.25 48.25l3.5 3.5m-3.5 0l3.5-3.5M688.25 55.15l3.5 3.5m-3.5 0l3.5-3.5M688.25 57.25l3.5 3.5m-3.5 0l3.5-3.5M688.25 58.35l3.5 3.5m-3.5 0l3.5-3.5M688.25 59.45l3.5 3.5m-3.5 0l3.5-3.5M688.25 60.55l3.5 3.5m-3.5 0l3.5-3.5M688.25 61.65l3.5 3.5m-3.5 0l3.5-3.5M688.25 62.75l3.5 3.5m-3.5 0l3.5-3.5M688.25 63.85l3.5 3.5m-3.5 0l3.5-3.5M688.25 64.95l3.5 3.5m-3.5 0l3.5-3.5M688.25 66.05l3.5 3.5m-3.5 0l3.5-3.5M688.25 67.15l3.5 3.5m-3.5 0l3.5-3.5M688.25 68.25l3.5 3.5m-3.5 0l3.5-3.5M688.25 69.35l3.5 3.5m-3.5 0l3.5-3.5M688.25 70.45l3.5 3.5m-3.5 0l3.5-3.5M688.25 71.55l3.5 3.5m-3.5 0l3.5-3.5M688.25 72.65l3.5 3.5m-3.5 0l3.5-3.5M688.25 73.75l3.5 3.5m-3.5 0l3.5-3.5M688.25 74.85l3.5 3.5m-3.5 0l3.5-3.5M688.25 75.95l3.5 3.5m-3.5 0l3.5-3.5M688.25 77.05l3.5 3.5m-3.5 0l3.5-3.5M688.25 78.15l3.5 3.5m-3.5 0l3.5-3.5M688.25 79.25l3.5 3.5m-3.5 0l3.5-3.5M688.25 80.35l3.5 3.5m-3.5 0l3.5-3.5M688.25 81.45l3.5 3.5m-3.5 0l3.5-3.5M688.25 82.55l3.5 3.5m-3.5 0l3.5-3.5M688.25 83.65l3.5 3.5m-3.5 0l3.5-3.5M688.25 84.75l3.5 3.5m-3.5 0l3.5-3.5M688.25 85.85l3.5 3.5m-3.5 0l3.5-3.5M688.25 86.95l3.5 3.5m-3.5 0l3.5-3.5M688.25 88.05l3.5 3.5m-3.5 0l3.5-3.5M688.25 89.15l3.5 3.5m-3.5 0l3.5-3.5M688.25 87.25l3.5 3.5m-3.5 0l3.5-3.5M688.25 90.25l3.5 3.5m-3.5 0l3.5-3.5M688.25 93.25l3.5 3.5m-3.5 0l3.5-3.5M688.25 95.75l3.5 3.5m-3.5 0l3.5-3.5M688.25 98.75l3.5 3.5m-3.5 0l3.5-3.5M688.25 103.65l3.5 3.5m-3.5 0l3.5-3.5M688.25 108.75l3.5 3.5m-3.5 0l3.5-3.5M688.25 110.75l3.5 3.5m-3.5 0l3.5-3.5M688.25 112.85l3.5 3.5m-3.5 0l3.5-3.5M688.25 115.25l3.5 3.5m-3.5 0l3.5-3.5M688.25 124.25l3.5 3.5m-3.5 0l3.5-3.5M688.25 135.75l3.5 3.5m-3.5 0l3.5-3.5M688.20 157.85l3.5 3.5m-3.5 0l3.5-3.5M687.89 160.75l3.5 3.5m-3.5 0l3.5-3.5M688.23 163.65l3.5 3.5m-3.5 0l3.5-3.5M688.15 166.55l3.5 3.5m-3.5 0l3.5-3.5M688.59 169.45l3.5 3.5m-3.5 0l3.5-3.5M643.55 71.39l3.5 3.5m-3.5 0l3.5-3.5M645.04 76.73l3.5 3.5m-3.5 0l3.5-3.5M644.86 72.59l3.5 3.5m-3.5 0l3.5-3.5M644.75 75.95l3.5 3.5m-3.5 0l3.5-3.5M645.68 77.06l3.5 3.5m-3.5 0l3.5-3.5M646.30 76.33l3.5 3.5m-3.5 0l3.5-3.5M643.69 77.87l3.5 3.5m-3.5 0l3.5-3.5M644.31 75.48l3.5 3.5m-3.5 0l3.5-3.5M644.59 76.97l3.5 3.5m-3.5 0l3.5-3.5M643.97 72.70l3.5 3.5m-3.5 0l3.5-3.5M644.13 71.88l3.5 3.5m-3.5 0l3.5-3.5M646.43 75.58l3.5 3.5m-3.5 0l3.5-3.5M644.42 74.00l3.5 3.5m-3.5 0l3.5-3.5M646.82 74.96l3.5 3.5m-3.5 0l3.5-3.5M644.08 77.58l3.5 3.5m-3.5 0l3.5-3.5M645.60 79.17l3.5 3.5m-3.5 0l3.5-3.5M666.14 67.77l3.5 3.5m-3.5 0l3.5-3.5M668.86 70.33l3.5 3.5m-3.5 0l3.5-3.5M669.22 64.73l3.5 3.5m-3.5 0l3.5-3.5M666.87 65.28l3.5 3.5m-3.5 0l3.5-3.5M666.47 71.26l3.5 3.5m-3.5 0l3.5-3.5M667.97 70.96l3.5 3.5m-3.5 0l3.5-3.5M667.16 70.51l3.5 3.5m-3.5 0l3.5-3.5M667.46 66.27l3.5 3.5m-3.5 0l3.5-3.5M668.71 71.07l3.5 3.5m-3.5 0l3.5-3.5M666.15 68.62l3.5 3.5m-3.5 0l3.5-3.5M668.11 65.97l3.5 3.5m-3.5 0l3.5-3.5M667.15 65.44l3.5 3.5m-3.5 0l3.5-3.5M666.53 66.23l3.5 3.5m-3.5 0l3.5-3.5M668.03 69.01l3.5 3.5m-3.5 0l3.5-3.5M666.35 76.65l3.5 3.5m-3.5 0l3.5-3.5M679.35 79.25l3.5 3.5m-3.5 0l3.5-3.5M674.81 82.65l3.5 3.5m-3.5 0l3.5-3.5M674.66 85.52l3.5 3.5m-3.5 0l3.5-3.5M674.91 88.38l3.5 3.5m-3.5 0l3.5-3.5M675.19 91.25l3.5 3.5m-3.5 0l3.5-3.5M675.55 127.05l3.5 3.5m-3.5 0l3.5-3.5M675.15 89.75l3.5 3.5m-3.5 0l3.5-3.5M675.95 125.95l3.5 3.5m-3.5 0l3.5-3.5" stroke="#e91b24" stroke-width="0.78" fill="none"/>
<path d="M581.75 75.95l3.5 3.5m-3.5 0l3.5-3.5M580.95 90.55l3.5 3.5m-3.5 0l3.5-3.5M581.15 113.25l3.5 3.5m-3.5 0l3.5-3.5" stroke="#ed4e26" stroke-width="0.78" fill="none"/>
<path d="M585.55 82.85l3.5 3.5m-3.5 0l3.5-3.5M585.55 89.05l3.5 3.5m-3.5 0l3.5-3.5M584.95 124.75l3.5 3.5m-3.5 0l3.5-3.5" stroke="#ed4d26" stroke-width="0.78" fill="none"/>
<path d="M608.45 74.05l3.5 3.5m-3.5 0l3.5-3.5M608.45 86.15l3.5 3.5m-3.5 0l3.5-3.5" stroke="#ec4d27" stroke-width="0.78" fill="none"/>
<path d="M618.18 73.45l3.5 3.5m-3.5 0l3.5-3.5M618.30 81.06l3.5 3.5m-3.5 0l3.5-3.5M619.39 79.58l3.5 3.5m-3.5 0l3.5-3.5M622.98 76.07l3.5 3.5m-3.5 0l3.5-3.5M619.47 81.39l3.5 3.5m-3.5 0l3.5-3.5M621.41 75.40l3.5 3.5m-3.5 0l3.5-3.5M621.96 75.87l3.5 3.5m-3.5 0l3.5-3.5M619.49 73.18l3.5 3.5m-3.5 0l3.5-3.5M622.18 81.03l3.5 3.5m-3.5 0l3.5-3.5M621.50 81.26l3.5 3.5m-3.5 0l3.5-3.5M618.09 75.16l3.5 3.5m-3.5 0l3.5-3.5M620.61 81.38l3.5 3.5m-3.5 0l3.5-3.5M623.29 76.47l3.5 3.5m-3.5 0l3.5-3.5M619.36 76.85l3.5 3.5m-3.5 0l3.5-3.5M620.71 81.13l3.5 3.5m-3.5 0l3.5-3.5M618.97 80.05l3.5 3.5m-3.5 0l3.5-3.5M622.09 80.23l3.5 3.5m-3.5 0l3.5-3.5M622.28 78.37l3.5 3.5m-3.5 0l3.5-3.5M619.79 75.90l3.5 3.5m-3.5 0l3.5-3.5M619.98 79.88l3.5 3.5m-3.5 0l3.5-3.5M618.39 74.85l3.5 3.5m-3.5 0l3.5-3.5M622.17 75.28l3.5 3.5m-3.5 0l3.5-3.5M618.31 73.44l3.5 3.5m-3.5 0l3.5-3.5M621.04 75.95l3.5 3.5m-3.5 0l3.5-3.5M623.44 80.75l3.5 3.5m-3.5 0l3.5-3.5M623.48 75.43l3.5 3.5m-3.5 0l3.5-3.5M618.85 90.45l3.5 3.5m-3.5 0l3.5-3.5M630.95 97.35l3.5 3.5m-3.5 0l3.5-3.5M630.95 98.65l3.5 3.5m-3.5 0l3.5-3.5M619.45 93.25l3.5 3.5m-3.5 0l3.5-3.5M640.95 123.75l3.5 3.5m-3.5 0l3.5-3.5M641.45 124.05l3.5 3.5m-3.5 0l3.5-3.5M618.65 135.95l3.5 3.5m-3.5 0l3.5-3.5M618.65 137.05l3.5 3.5m-3.5 0l3.5-3.5M618.65 138.15l3.5 3.5m-3.5 0l3.5-3.5M618.65 139.25l3.5 3.5m-3.5 0l3.5-3.5M618.65 140.35l3.5 3.5m-3.5 0l3.5-3.5M618.65 141.45l3.5 3.5m-3.5 0l3.5-3.5M618.65 142.55l3.5 3.5m-3.5 0l3.5-3.5M618.65 143.65l3.5 3.5m-3.5 0l3.5-3.5M618.65 144.75l3.5 3.5m-3.5 0l3.5-3.5M618.65 145.85l3.5 3.5m-3.5 0l3.5-3.5M618.65 146.95l3.5 3.5m-3.5 0l3.5-3.5M618.65 148.05l3.5 3.5m-3.5 0l3.5-3.5M618.65 149.15l3.5 3.5m-3.5 0l3.5-3.5M618.65 150.25l3.5 3.5m-3.5 0l3.5-3.5M618.65 151.35l3.5 3.5m-3.5 0l3.5-3.5M618.65 152.45l3.5 3.5m-3.5 0l3.5-3.5M618.65 153.55l3.5 3.5m-3.5 0l3.5-3.5M618.65 154.65l3.5 3.5m-3.5 0l3.5-3.5M618.65 155.75l3.5 3.5m-3.5 0l3.5-3.5M618.65 156.85l3.5 3.5m-3.5 0l3.5-3.5M618.65 157.95l3.5 3.5m-3.5 0l3.5-3.5M618.65 159.05l3.5 3.5m-3.5 0l3.5-3.5M618.65 160.15l3.5 3.5m-3.5 0l3.5-3.5M618.65 161.25l3.5 3.5m-3.5 0l3.5-3.5M618.65 162.35l3.5 3.5m-3.5 0l3.5-3.5M618.65 163.45l3.5 3.5m-3.5 0l3.5-3.5M618.65 164.55l3.5 3.5m-3.5 0l3.5-3.5M618.65 165.65l3.5 3.5m-3.5 0l3.5-3.5M618.65 166.75l3.5 3.5m-3.5 0l3.5-3.5M641.75 160.45l3.5 3.5m-3.5 0l3.5-3.5" stroke="#ea1c24" stroke-width="0.78" fill="none"/>
<path d="M419.35 62.55l3.5 3.5m-3.5 0l3.5-3.5M419.45 97.45l3.5 3.5m-3.5 0l3.5-3.5M419.45 98.65l3.5 3.5m-3.5 0l3.5-3.5" stroke="#55b63d" stroke-width="0.78" fill="none"/>
<path d="M417.65 60.85l3.5 3.5m-3.5 0l3.5-3.5" stroke="#48b33c" stroke-width="0.78" fill="none"/>
<path d="M428.65 68.25l3.5 3.5m-3.5 0l3.5-3.5M428.65 138.25l3.5 3.5m-3.5 0l3.5-3.5M428.65 176.25l3.5 3.5m-3.5 0l3.5-3.5" stroke="#82c33e" stroke-width="0.78" fill="none"/>
<path d="M431.55 79.25l3.5 3.5m-3.5 0l3.5-3.5M431.75 139.75l3.5 3.5m-3.5 0l3.5-3.5" stroke="#88c53d" stroke-width="0.78" fill="none"/>
<path d="M417.34 72.17l3.5 3.5m-3.5 0l3.5-3.5M417.29 172.15l3.5 3.5m-3.5 0l3.5-3.5" stroke="#46b23c" stroke-width="0.78" fill="none"/>
<path d="M417.48 76.37l3.5 3.5m-3.5 0l3.5-3.5M417.43 75.78l3.5 3.5m-3.5 0l3.5-3.5M417.48 69.50l3.5 3.5m-3.5 0l3.5-3.5M417.52 124.04l3.5 3.5m-3.5 0l3.5-3.5" stroke="#47b23c" stroke-width="0.78" fill="none"/>
<path d="M420.06 70.00l3.5 3.5m-3.5 0l3.5-3.5" stroke="#5ab73d" stroke-width="0.78" fill="none"/>
<path d="M416.71 72.89l3.5 3.5m-3.5 0l3.5-3.5M416.76 173.17l3.5 3.5m-3.5 0l3.5-3.5" stroke="#42b13c" stroke-width="0.78" fill="none"/>
<path d="M420.08 75.01l3.5 3.5m-3.5 0l3.5-3.5" stroke="#5ab83d" stroke-width="0.78" fill="none"/>
<path d="M416.63 70.87l3.5 3.5m-3.5 0l3.5-3.5" stroke="#41b03c" stroke-width="0.78" fill="none"/>
<path d="M421.17 73.02l3.5 3.5m-3.5 0l3.5-3.5" stroke="#62ba3d" stroke-width="0.78" fill="none"/>
<path d="M418.07 72.13l3.5 3.5m-3.5 0l3.5-3.5M418.02 77.18l3.5 3.5m-3.5 0l3.5-3.5M418.08 79.98l3.5 3.5m-3.5 0l3.5-3.5" stroke="#4bb33d" stroke-width="0.78" fill="none"/>
<path d="M423.10 72.17l3.5 3.5m-3.5 0l3.5-3.5" stroke="#70be3e" stroke-width="0.78" fill="none"/>
<path d="M419.07 76.97l3.5 3.5m-3.5 0l3.5-3.5" stroke="#53b53d" stroke-width="0.78" fill="none"/>
<path d="M423.42 72.61l3.5 3.5m-3.5 0l3.5-3.5" stroke="#72be3e" stroke-width="0.78" fill="none"/>
<path d="M422.71 73.14l3.5 3.5m-3.5 0l3.5-3.5" stroke="#6dbd3e" stroke-width="0.78" fill="none"/>
<path d="M422.10 72.98l3.5 3.5m-3.5 0l3.5-3.5" stroke="#69bc3d" stroke-width="0.78" fill="none"/>
<path d="M422.57 73.46l3.5 3.5m-3.5 0l3.5-3.5" stroke="#6cbd3e" stroke-width="0.78" fill="none"/>
<path d="M417.17 69.58l3.5 3.5m-3.5 0l3.5-3.5M417.17 83.38l3.5 3.5m-3.5 0l3.5-3.5" stroke="#45b23c" stroke-width="0.78" fill="none"/>
<path d="M415.11 81.53l3.5 3.5m-3.5 0l3.5-3.5M414.90 148.47l3.5 3.5m-3.5 0l3.5-3.5" stroke="#39ae3c" stroke-width="0.78" fill="none"/>
<path d="M417.62 76.12l3.5 3.5m-3.5 0l3.5-3.5M417.56 161.07l3.5 3.5m-3.5 0l3.5-3.5" stroke="#48b23c" stroke-width="0.78" fill="none"/>
<path d="M415.61 78.88l3.5 3.5m-3.5 0l3.5-3.5M415.59 83.33l3.5 3.5m-3.5 0l3.5-3.5M415.72 134.83l3.5 3.5m-3.5 0l3.5-3.5M415.61 130.87l3.5 3.5m-3.5 0l3.5-3.5M415.53 160.04l3.5 3.5m-3.5 0l3.5-3.5" stroke="#3baf3c" stroke-width="0.78" fill="none"/>
<path d="M414.78 76.68l3.5 3.5m-3.5 0l3.5-3.5M414.68 83.14l3.5 3.5m-3.5 0l3.5-3.5M414.75 105.55l3.5 3.5m-3.5 0l3.5-3.5M414.68 174.84l3.5 3.5m-3.5 0l3.5-3.5" stroke="#38ae3c" stroke-width="0.78" fill="none"/>
<path d="M413.23 80.36l3.5 3.5m-3.5 0l3.5-3.5M413.21 149.96l3.5 3.5m-3.5 0l3.5-3.5" stroke="#33ac3d" stroke-width="0.78" fill="none"/>
<path d="M417.73 76.32l3.5 3.5m-3.5 0l3.5-3.5M417.78 172.96l3.5 3.5m-3.5 0l3.5-3.5" stroke="#49b33c" stroke-width="0.78" fill="none"/>
<path d="M412.14 84.49l3.5 3.5m-3.5 0l3.5-3.5M412.37 82.95l3.5 3.5m-3.5 0l3.5-3.5M412.30 126.95l3.5 3.5m-3.5 0l3.5-3.5M412.29 146.33l3.5 3.5m-3.5 0l3.5-3.5M412.11 172.30l3.5 3.5m-3.5 0l3.5-3.5M412.37 176.16l3.5 3.5m-3.5 0l3.5-3.5M412.36 180.19l3.5 3.5m-3.5 0l3.5-3.5" stroke="#30ab3d" stroke-width="0.78" fill="none"/>
<path d="M411.62 84.33l3.5 3.5m-3.5 0l3.5-3.5" stroke="#2eaa3d" stroke-width="0.78" fill="none"/>
<path d="M413.97 84.11l3.5 3.5m-3.5 0l3.5-3.5M414.04 131.19l3.5 3.5m-3.5 0l3.5-3.5" stroke="#36ad3d" stroke-width="0.78" fill="none"/>
<path d="M412.80 79.21l3.5 3.5m-3.5 0l3.5-3.5M412.84 127.17l3.5 3.5m-3.5 0l3.5-3.5M412.73 173.97l3.5 3.5m-3.5 0l3.5-3.5" stroke="#32ab3d" stroke-width="0.78" fill="none"/>
<path d="M427.35 73.78l3.5 3.5m-3.5 0l3.5-3.5M427.57 78.49l3.5 3.5m-3.5 0l3.5-3.5M427.55 110.25l3.5 3.5m-3.5 0l3.5-3.5" stroke="#7fc23e" stroke-width="0.78" fill="none"/>
<path d="M428.07 76.57l3.5 3.5m-3.5 0l3.5-3.5M428.02 72.89l3.5 3.5m-3.5 0l3.5-3.5" stroke="#80c33e" stroke-width="0.78" fill="none"/>
<path d="M429.71 72.13l3.5 3.5m-3.5 0l3.5-3.5" stroke="#84c43d" stroke-width="0.78" fill="none"/>
<path d="M428.61 78.79l3.5 3.5m-3.5 0l3.5-3.5" stroke="#81c33e" stroke-width="0.78" fill="none"/>
<path d="M426.88 79.55l3.5 3.5m-3.5 0l3.5-3.5M427.14 77.33l3.5 3.5m-3.5 0l3.5-3.5" stroke="#7ec23e" stroke-width="0.78" fill="none"/>
<path d="M462.45 71.25l3.5 3.5m-3.5 0l3.5-3.5M462.45 90.55l3.5 3.5m-3.5 0l3.5-3.5" stroke="#ccde20" stroke-width="0.78" fill="none"/>
<path d="M480.95 79.05l3.5 3.5m-3.5 0l3.5-3.5" stroke="#f0d510" stroke-width="0.78" fill="none"/>
<path d="M466.29 78.25l3.5 3.5m-3.5 0l3.5-3.5M466.09 81.05l3.5 3.5m-3.5 0l3.5-3.5M466.19 82.45l3.5 3.5m-3.5 0l3.5-3.5M466.32 83.85l3.5 3.5m-3.5 0l3.5-3.5M466.19 85.25l3.5 3.5m-3.5 0l3.5-3.5M466.25 149.05l3.5 3.5m-3.5 0l3.5-3.5" stroke="#d0df1c" stroke-width="0.78" fill="none"/>
<path d="M466.35 79.65l3.5 3.5m-3.5 0l3.5-3.5M466.74 170.63l3.5 3.5m-3.5 0l3.5-3.5M466.89 173.40l3.5 3.5m-3.5 0l3.5-3.5" stroke="#d1df1c" stroke-width="0.78" fill="none"/>
<path d="M487.68 76.75l3.5 3.5m-3.5 0l3.5-3.5M487.51 78.02l3.5 3.5m-3.5 0l3.5-3.5M487.50 79.28l3.5 3.5m-3.5 0l3.5-3.5M487.40 173.92l3.5 3.5m-3.5 0l3.5-3.5M487.53 170.93l3.5 3.5m-3.5 0l3.5-3.5M487.45 165.95l3.5 3.5m-3.5 0l3.5-3.5" stroke="#f4d105" stroke-width="0.78" fill="none"/>
<path d="M487.17 80.55l3.5 3.5m-3.5 0l3.5-3.5" stroke="#f3d205" stroke-width="0.78" fill="none"/>
<path d="M410.73 114.49l3.5 3.5m-3.5 0l3.5-3.5M410.75 135.23l3.5 3.5m-3.5 0l3.5-3.5M410.82 162.74l3.5 3.5m-3.5 0l3.5-3.5M410.64 177.74l3.5 3.5m-3.5 0l3.5-3.5" stroke="#2ba93e" stroke-width="0.78" fill="none"/>
<path d="M411.37 114.02l3.5 3.5m-3.5 0l3.5-3.5" stroke="#2daa3d" stroke-width="0.78" fill="none"/>
<path d="M410.96 138.44l3.5 3.5m-3.5 0l3.5-3.5M411.01 165.02l3.5 3.5m-3.5 0l3.5-3.5" stroke="#2ca93e" stroke-width="0.78" fill="none"/>
<path d="M414.33 125.95l3.5 3.5m-3.5 0l3.5-3.5M414.28 126.33l3.5 3.5m-3.5 0l3.5-3.5M414.31 176.16l3.5 3.5m-3.5 0l3.5-3.5" stroke="#37ad3d" stroke-width="0.78" fill="none"/>
<path d="M415.42 137.86l3.5 3.5m-3.5 0l3.5-3.5M415.22 123.83l3.5 3.5m-3.5 0l3.5-3.5" stroke="#3aae3c" stroke-width="0.78" fill="none"/>
<path d="M411.93 126.19l3.5 3.5m-3.5 0l3.5-3.5M411.83 125.53l3.5 3.5m-3.5 0l3.5-3.5M411.85 175.94l3.5 3.5m-3.5 0l3.5-3.5" stroke="#2faa3d" stroke-width="0.78" fill="none"/>
<path d="M412.00 133.96l3.5 3.5m-3.5 0l3.5-3.5M412.06 172.72l3.5 3.5m-3.5 0l3.5-3.5" stroke="#2fab3d" stroke-width="0.78" fill="none"/>
<path d="M418.65 121.75l3.5 3.5m-3.5 0l3.5-3.5M418.65 134.45l3.5 3.5m-3.5 0l3.5-3.5M418.64 161.93l3.5 3.5m-3.5 0l3.5-3.5" stroke="#50b53d" stroke-width="0.78" fill="none"/>
<path d="M423.25 127.05l3.5 3.5m-3.5 0l3.5-3.5M423.25 128.25l3.5 3.5m-3.5 0l3.5-3.5" stroke="#71be3e" stroke-width="0.78" fill="none"/>
<path d="M435.55 116.25l3.5 3.5m-3.5 0l3.5-3.5M435.55 161.75l3.5 3.5m-3.5 0l3.5-3.5" stroke="#90c83d" stroke-width="0.78" fill="none"/>
<path d="M434.75 120.95l3.5 3.5m-3.5 0l3.5-3.5M434.75 173.25l3.5 3.5m-3.5 0l3.5-3.5" stroke="#8fc73d" stroke-width="0.78" fill="none"/>
<path d="M430.25 126.25l3.5 3.5m-3.5 0l3.5-3.5M430.25 182.45l3.5 3.5m-3.5 0l3.5-3.5" stroke="#85c43d" stroke-width="0.78" fill="none"/>
<path d="M444.05 121.75l3.5 3.5m-3.5 0l3.5-3.5" stroke="#a4ce3b" stroke-width="0.78" fill="none"/>
<path d="M465.78 118.65l3.5 3.5m-3.5 0l3.5-3.5M465.57 122.85l3.5 3.5m-3.5 0l3.5-3.5M465.66 124.95l3.5 3.5m-3.5 0l3.5-3.5M465.67 172.60l3.5 3.5m-3.5 0l3.5-3.5" stroke="#d0df1d" stroke-width="0.78" fill="none"/>
<path d="M465.24 120.75l3.5 3.5m-3.5 0l3.5-3.5M465.44 127.05l3.5 3.5m-3.5 0l3.5-3.5M465.12 170.16l3.5 3.5m-3.5 0l3.5-3.5" stroke="#cfdf1d" stroke-width="0.78" fill="none"/>
<path d="M477.85 120.25l3.5 3.5m-3.5 0l3.5-3.5M477.68 174.69l3.5 3.5m-3.5 0l3.5-3.5" stroke="#efd616" stroke-width="0.78" fill="none"/>
<path d="M483.25 113.25l3.5 3.5m-3.5 0l3.5-3.5M483.25 164.75l3.5 3.5m-3.5 0l3.5-3.5M483.27 173.07l3.5 3.5m-3.5 0l3.5-3.5" stroke="#f2d30c" stroke-width="0.78" fill="none"/>
<path d="M495.25 90.25l3.5 3.5m-3.5 0l3.5-3.5M495.25 171.45l3.5 3.5m-3.5 0l3.5-3.5" stroke="#f5ac39" stroke-width="0.78" fill="none"/>
<path d="M497.05 123.25l3.5 3.5m-3.5 0l3.5-3.5" stroke="#f6a632" stroke-width="0.78" fill="none"/>
<path d="M532.75 90.75l3.5 3.5m-3.5 0l3.5-3.5M532.75 91.85l3.5 3.5m-3.5 0l3.5-3.5" stroke="#ed5c2a" stroke-width="0.78" fill="none"/>
<path d="M526.95 141.55l3.5 3.5m-3.5 0l3.5-3.5" stroke="#f17729" stroke-width="0.78" fill="none"/>
<path d="M411.26 123.45l3.5 3.5m-3.5 0l3.5-3.5M411.27 146.10l3.5 3.5m-3.5 0l3.5-3.5M411.29 147.04l3.5 3.5m-3.5 0l3.5-3.5" stroke="#2daa3e" stroke-width="0.78" fill="none"/>
<path d="M430.95 135.95l3.5 3.5m-3.5 0l3.5-3.5M430.95 160.25l3.5 3.5m-3.5 0l3.5-3.5" stroke="#87c53d" stroke-width="0.78" fill="none"/>
<path d="M416.21 147.20l3.5 3.5m-3.5 0l3.5-3.5M416.21 175.03l3.5 3.5m-3.5 0l3.5-3.5" stroke="#3eb03c" stroke-width="0.78" fill="none"/>
<path d="M413.67 152.22l3.5 3.5m-3.5 0l3.5-3.5" stroke="#35ac3d" stroke-width="0.78" fill="none"/>
<path d="M436.25 147.45l3.5 3.5m-3.5 0l3.5-3.5" stroke="#92c83d" stroke-width="0.78" fill="none"/>
<path d="M439.25 148.25l3.5 3.5m-3.5 0l3.5-3.5" stroke="#98cb3c" stroke-width="0.78" fill="none"/>
<path d="M434.05 152.05l3.5 3.5m-3.5 0l3.5-3.5" stroke="#8dc73d" stroke-width="0.78" fill="none"/>
<path d="M433.25 155.25l3.5 3.5m-3.5 0l3.5-3.5" stroke="#8bc63d" stroke-width="0.78" fill="none"/>
<path d="M447.85 152.85l3.5 3.5m-3.5 0l3.5-3.5" stroke="#aed238" stroke-width="0.78" fill="none"/>
<path d="M456.25 152.05l3.5 3.5m-3.5 0l3.5-3.5" stroke="#c4db2f" stroke-width="0.78" fill="none"/>
<path d="M470.95 152.85l3.5 3.5m-3.5 0l3.5-3.5" stroke="#d6e119" stroke-width="0.78" fill="none"/>
<path d="M479.26 148.25l3.5 3.5m-3.5 0l3.5-3.5M479.06 150.55l3.5 3.5m-3.5 0l3.5-3.5M479.57 152.85l3.5 3.5m-3.5 0l3.5-3.5" stroke="#f0d513" stroke-width="0.78" fill="none"/>
<path d="M484.75 148.25l3.5 3.5m-3.5 0l3.5-3.5M484.75 152.85l3.5 3.5m-3.5 0l3.5-3.5" stroke="#f2d30a" stroke-width="0.78" fill="none"/>
<path d="M490.25 152.05l3.5 3.5m-3.5 0l3.5-3.5M490.31 170.75l3.5 3.5m-3.5 0l3.5-3.5M490.01 174.06l3.5 3.5m-3.5 0l3.5-3.5" stroke="#f5d000" stroke-width="0.78" fill="none"/>
<path d="M461.75 137.45l3.5 3.5m-3.5 0l3.5-3.5" stroke="#cbdd22" stroke-width="0.78" fill="none"/>
<path d="M469.45 138.25l3.5 3.5m-3.5 0l3.5-3.5M469.34 174.06l3.5 3.5m-3.5 0l3.5-3.5M469.60 173.57l3.5 3.5m-3.5 0l3.5-3.5M469.56 172.65l3.5 3.5m-3.5 0l3.5-3.5M469.60 173.07l3.5 3.5m-3.5 0l3.5-3.5" stroke="#d4e01a" stroke-width="0.78" fill="none"/>
<path d="M474.05 139.05l3.5 3.5m-3.5 0l3.5-3.5M474.11 170.64l3.5 3.5m-3.5 0l3.5-3.5" stroke="#e4db19" stroke-width="0.78" fill="none"/>
<path d="M422.43 164.60l3.5 3.5m-3.5 0l3.5-3.5" stroke="#6bbc3e" stroke-width="0.78" fill="none"/>
<path d="M413.48 166.16l3.5 3.5m-3.5 0l3.5-3.5" stroke="#34ac3d" stroke-width="0.78" fill="none"/>
<path d="M410.41 162.92l3.5 3.5m-3.5 0l3.5-3.5M410.30 177.45l3.5 3.5m-3.5 0l3.5-3.5" stroke="#2aa93e" stroke-width="0.78" fill="none"/>
<path d="M426.25 160.95l3.5 3.5m-3.5 0l3.5-3.5M426.25 173.25l3.5 3.5m-3.5 0l3.5-3.5" stroke="#7cc13e" stroke-width="0.78" fill="none"/>
<path d="M437.05 164.75l3.5 3.5m-3.5 0l3.5-3.5" stroke="#94c93d" stroke-width="0.78" fill="none"/>
<path d="M440.25 160.95l3.5 3.5m-3.5 0l3.5-3.5" stroke="#9bcb3c" stroke-width="0.78" fill="none"/>
<path d="M454.05 161.75l3.5 3.5m-3.5 0l3.5-3.5" stroke="#c0d933" stroke-width="0.78" fill="none"/>
<path d="M460.25 160.95l3.5 3.5m-3.5 0l3.5-3.5M460.25 173.25l3.5 3.5m-3.5 0l3.5-3.5" stroke="#c9dc26" stroke-width="0.78" fill="none"/>
<path d="M482.25 161.75l3.5 3.5m-3.5 0l3.5-3.5M482.04 174.92l3.5 3.5m-3.5 0l3.5-3.5M482.07 173.76l3.5 3.5m-3.5 0l3.5-3.5" stroke="#f1d40e" stroke-width="0.78" fill="none"/>
<path d="M487.05 166.25l3.5 3.5m-3.5 0l3.5-3.5M487.01 172.08l3.5 3.5m-3.5 0l3.5-3.5M486.62 172.66l3.5 3.5m-3.5 0l3.5-3.5" stroke="#f3d206" stroke-width="0.78" fill="none"/>
<path d="M478.65 166.25l3.5 3.5m-3.5 0l3.5-3.5M478.75 171.35l3.5 3.5m-3.5 0l3.5-3.5" stroke="#efd614" stroke-width="0.78" fill="none"/>
<path d="M416.51 176.63l3.5 3.5m-3.5 0l3.5-3.5M416.56 175.40l3.5 3.5m-3.5 0l3.5-3.5" stroke="#40b03c" stroke-width="0.78" fill="none"/>
<path d="M416.18 174.95l3.5 3.5m-3.5 0l3.5-3.5" stroke="#3eaf3c" stroke-width="0.78" fill="none"/>
<path d="M412.93 176.85l3.5 3.5m-3.5 0l3.5-3.5" stroke="#32ac3d" stroke-width="0.78" fill="none"/>
<path d="M415.81 177.46l3.5 3.5m-3.5 0l3.5-3.5M415.94 173.75l3.5 3.5m-3.5 0l3.5-3.5" stroke="#3caf3c" stroke-width="0.78" fill="none"/>
<path d="M417.97 173.44l3.5 3.5m-3.5 0l3.5-3.5" stroke="#4bb33c" stroke-width="0.78" fill="none"/>
<path d="M418.92 180.61l3.5 3.5m-3.5 0l3.5-3.5M418.95 173.51l3.5 3.5m-3.5 0l3.5-3.5" stroke="#52b53d" stroke-width="0.78" fill="none"/>
<path d="M420.69 173.53l3.5 3.5m-3.5 0l3.5-3.5" stroke="#5eb93d" stroke-width="0.78" fill="none"/>
<path d="M438.65 172.45l3.5 3.5m-3.5 0l3.5-3.5" stroke="#97ca3c" stroke-width="0.78" fill="none"/>
<path d="M449.25 170.95l3.5 3.5m-3.5 0l3.5-3.5M449.05 171.25l3.5 3.5m-3.5 0l3.5-3.5" stroke="#b2d437" stroke-width="0.78" fill="none"/>
<path d="M452.45 172.45l3.5 3.5m-3.5 0l3.5-3.5" stroke="#bbd734" stroke-width="0.78" fill="none"/>
<path d="M457.05 171.75l3.5 3.5m-3.5 0l3.5-3.5" stroke="#c5db2d" stroke-width="0.78" fill="none"/>
<path d="M469.06 172.89l3.5 3.5m-3.5 0l3.5-3.5" stroke="#d4e01b" stroke-width="0.78" fill="none"/>
<path d="M467.75 173.49l3.5 3.5m-3.5 0l3.5-3.5" stroke="#d2e01b" stroke-width="0.78" fill="none"/>
<path d="M467.49 173.02l3.5 3.5m-3.5 0l3.5-3.5" stroke="#d2df1c" stroke-width="0.78" fill="none"/>
<path d="M468.57 171.31l3.5 3.5m-3.5 0l3.5-3.5" stroke="#d3e01b" stroke-width="0.78" fill="none"/>
<path d="M464.58 173.78l3.5 3.5m-3.5 0l3.5-3.5M464.48 172.47l3.5 3.5m-3.5 0l3.5-3.5M464.48 173.61l3.5 3.5m-3.5 0l3.5-3.5" stroke="#cede1d" stroke-width="0.78" fill="none"/>
<path d="M464.81 173.86l3.5 3.5m-3.5 0l3.5-3.5" stroke="#cfde1d" stroke-width="0.78" fill="none"/>
<path d="M464.18 170.22l3.5 3.5m-3.5 0l3.5-3.5" stroke="#cede1e" stroke-width="0.78" fill="none"/>
<path d="M470.59 173.70l3.5 3.5m-3.5 0l3.5-3.5" stroke="#d6e11a" stroke-width="0.78" fill="none"/>
<path d="M482.74 175.72l3.5 3.5m-3.5 0l3.5-3.5M482.65 162.05l3.5 3.5m-3.5 0l3.5-3.5" stroke="#f1d40d" stroke-width="0.78" fill="none"/>
<path d="M474.19 171.28l3.5 3.5m-3.5 0l3.5-3.5M474.24 170.26l3.5 3.5m-3.5 0l3.5-3.5" stroke="#e5db19" stroke-width="0.78" fill="none"/>
<path d="M479.77 175.00l3.5 3.5m-3.5 0l3.5-3.5M479.74 171.77l3.5 3.5m-3.5 0l3.5-3.5M479.75 165.95l3.5 3.5m-3.5 0l3.5-3.5" stroke="#f0d512" stroke-width="0.78" fill="none"/>
<path d="M481.08 171.28l3.5 3.5m-3.5 0l3.5-3.5" stroke="#f1d410" stroke-width="0.78" fill="none"/>
<path d="M476.43 172.59l3.5 3.5m-3.5 0l3.5-3.5" stroke="#eed718" stroke-width="0.78" fill="none"/>
<path d="M473.27 171.59l3.5 3.5m-3.5 0l3.5-3.5M473.38 172.53l3.5 3.5m-3.5 0l3.5-3.5" stroke="#e0dd19" stroke-width="0.78" fill="none"/>
<path d="M476.05 174.34l3.5 3.5m-3.5 0l3.5-3.5" stroke="#eed719" stroke-width="0.78" fill="none"/>
<path d="M476.95 171.97l3.5 3.5m-3.5 0l3.5-3.5M476.95 166.45l3.5 3.5m-3.5 0l3.5-3.5" stroke="#efd617" stroke-width="0.78" fill="none"/>
<path d="M476.73 174.28l3.5 3.5m-3.5 0l3.5-3.5" stroke="#eed717" stroke-width="0.78" fill="none"/>
<path d="M490.53 170.42l3.5 3.5m-3.5 0l3.5-3.5" stroke="#f5ce04" stroke-width="0.78" fill="none"/>
<path d="M486.06 170.88l3.5 3.5m-3.5 0l3.5-3.5M486.07 172.06l3.5 3.5m-3.5 0l3.5-3.5" stroke="#f3d207" stroke-width="0.78" fill="none"/>
<path d="M488.61 173.32l3.5 3.5m-3.5 0l3.5-3.5" stroke="#f4d103" stroke-width="0.78" fill="none"/>
<path d="M487.86 173.46l3.5 3.5m-3.5 0l3.5-3.5" stroke="#f4d104" stroke-width="0.78" fill="none"/>
<path d="M489.69 172.09l3.5 3.5m-3.5 0l3.5-3.5" stroke="#f5d001" stroke-width="0.78" fill="none"/>
<path d="M454.75 161.65l3.5 3.5m-3.5 0l3.5-3.5" stroke="#c2da32" stroke-width="0.78" fill="none"/>
<path d="M460.55 161.15l3.5 3.5m-3.5 0l3.5-3.5" stroke="#cadd25" stroke-width="0.78" fill="none"/>
<path d="M470.15 166.45l3.5 3.5m-3.5 0l3.5-3.5" stroke="#d5e01a" stroke-width="0.78" fill="none"/>
<path d="M457.65 171.25l3.5 3.5m-3.5 0l3.5-3.5" stroke="#c6db2c" stroke-width="0.78" fill="none"/>
<path d="M495.15 171.25l3.5 3.5m-3.5 0l3.5-3.5" stroke="#f5ad39" stroke-width="0.78" fill="none"/>
<path d="M501.95 164.95l3.5 3.5m-3.5 0l3.5-3.5M502.00 152.74l3.5 3.5m-3.5 0l3.5-3.5" stroke="#f79620" stroke-width="0.78" fill="none"/>
<path d="M501.75 171.75l3.5 3.5m-3.5 0l3.5-3.5" stroke="#f79720" stroke-width="0.78" fill="none"/>
<path d="M496.15 149.95l3.5 3.5m-3.5 0l3.5-3.5" stroke="#f5a935" stroke-width="0.78" fill="none"/>
<path d="M514.05 152.25l3.5 3.5m-3.5 0l3.5-3.5" stroke="#f69224" stroke-width="0.78" fill="none"/>
<path d="M523.25 152.75l3.5 3.5m-3.5 0l3.5-3.5" stroke="#f48828" stroke-width="0.78" fill="none"/>
<path d="M567.15 147.65l3.5 3.5m-3.5 0l3.5-3.5M567.15 161.45l3.5 3.5m-3.5 0l3.5-3.5M567.15 166.05l3.5 3.5m-3.5 0l3.5-3.5" stroke="#ed5227" stroke-width="0.78" fill="none"/>
<path d="M568.25 152.75l3.5 3.5m-3.5 0l3.5-3.5" stroke="#ee5227" stroke-width="0.78" fill="none"/>
<path d="M507.73 152.74l3.5 3.5m-3.5 0l3.5-3.5M508.25 151.93l3.5 3.5m-3.5 0l3.5-3.5" stroke="#f69320" stroke-width="0.78" fill="none"/>
<path d="M507.09 150.28l3.5 3.5m-3.5 0l3.5-3.5" stroke="#f79320" stroke-width="0.78" fill="none"/>
<path d="M506.19 152.55l3.5 3.5m-3.5 0l3.5-3.5" stroke="#f7931f" stroke-width="0.78" fill="none"/>
<path d="M530.76 151.86l3.5 3.5m-3.5 0l3.5-3.5" stroke="#ee652a" stroke-width="0.78" fill="none"/>
<path d="M528.15 149.40l3.5 3.5m-3.5 0l3.5-3.5M528.27 148.29l3.5 3.5m-3.5 0l3.5-3.5" stroke="#f07129" stroke-width="0.78" fill="none"/>
<path d="M531.35 150.54l3.5 3.5m-3.5 0l3.5-3.5" stroke="#ee632a" stroke-width="0.78" fill="none"/>
<path d="M527.92 149.59l3.5 3.5m-3.5 0l3.5-3.5M528.07 147.11l3.5 3.5m-3.5 0l3.5-3.5" stroke="#f07229" stroke-width="0.78" fill="none"/>
<path d="M531.94 147.78l3.5 3.5m-3.5 0l3.5-3.5" stroke="#ed602a" stroke-width="0.78" fill="none"/>
<path d="M530.98 152.68l3.5 3.5m-3.5 0l3.5-3.5" stroke="#ee642a" stroke-width="0.78" fill="none"/>
<path d="M502.45 166.05l3.5 3.5m-3.5 0l3.5-3.5M502.45 164.75l3.5 3.5m-3.5 0l3.5-3.5M502.45 171.45l3.5 3.5m-3.5 0l3.5-3.5" stroke="#f7951e" stroke-width="0.78" fill="none"/>
<path d="M516.35 161.45l3.5 3.5m-3.5 0l3.5-3.5" stroke="#f69225" stroke-width="0.78" fill="none"/>
<path d="M529.05 159.15l3.5 3.5m-3.5 0l3.5-3.5" stroke="#ef6d29" stroke-width="0.78" fill="none"/>
<path d="M527.85 161.45l3.5 3.5m-3.5 0l3.5-3.5" stroke="#f07329" stroke-width="0.78" fill="none"/>
<path d="M519.85 166.05l3.5 3.5m-3.5 0l3.5-3.5M518.95 175.45l3.5 3.5m-3.5 0l3.5-3.5" stroke="#f59127" stroke-width="0.78" fill="none"/>
<path d="M523.85 167.25l3.5 3.5m-3.5 0l3.5-3.5" stroke="#f38528" stroke-width="0.78" fill="none"/>
<path d="M533.05 165.45l3.5 3.5m-3.5 0l3.5-3.5" stroke="#ec5b2a" stroke-width="0.78" fill="none"/>
<path d="M562.55 164.35l3.5 3.5m-3.5 0l3.5-3.5" stroke="#ed5328" stroke-width="0.78" fill="none"/>
<path d="M518.25 170.15l3.5 3.5m-3.5 0l3.5-3.5" stroke="#f59126" stroke-width="0.78" fill="none"/>
<path d="M524.95 171.45l3.5 3.5m-3.5 0l3.5-3.5" stroke="#f28029" stroke-width="0.78" fill="none"/>
<path d="M602.45 166.45l3.5 3.5m-3.5 0l3.5-3.5" stroke="#ec4b27" stroke-width="0.78" fill="none"/>
<path d="M611.05 43.25l3.5 3.5m-3.5 0l3.5-3.5M611.05 44.75l3.5 3.5m-3.5 0l3.5-3.5M611.05 46.25l3.5 3.5m-3.5 0l3.5-3.5M611.05 48.25l3.5 3.5m-3.5 0l3.5-3.5M611.05 49.95l3.5 3.5m-3.5 0l3.5-3.5M633.85 34.95l3.5 3.5m-3.5 0l3.5-3.5M635.05 48.25l3.5 3.5m-3.5 0l3.5-3.5" stroke="#e25a6e" stroke-width="0.78" fill="none"/>
<path d="M616.85 58.85l3.5 3.5m-3.5 0l3.5-3.5M616.85 62.25l3.5 3.5m-3.5 0l3.5-3.5M616.85 65.55l3.5 3.5m-3.5 0l3.5-3.5" stroke="#e0607a" stroke-width="0.78" fill="none"/>
<!-- gray benchmark lines -->
<path class="gl" d="M57.4 171.1H190M57.4 188.9H349M411.6 145.6H601.2M411.6 158.1H703M411.6 170.6H672.8"/>
<!-- annotations -->
<text class="an"><tspan x="129.5" y="135.8">50% benchmark blue</tspan><tspan x="129.5" y="150.6">+green WF of all</tspan><tspan x="130.8" y="164.8">maize 754 m<tspan font-size="7.5" dy="-6.4">3</tspan><tspan dy="6.4">/ton</tspan></tspan></text>
<text class="an"><tspan x="293.3" y="154.6">average blue</tspan><tspan x="293.3" y="169">WF of irrigated</tspan><tspan x="293.3" y="183.6">maize 294 m<tspan font-size="7.5" dy="-6.4">3</tspan><tspan dy="6.4">/ton</tspan></tspan></text>
<text class="an"><tspan x="487.3" y="108.9">average green</tspan><tspan x="488.2" y="123.5">WF of rainfed</tspan><tspan x="488.2" y="138.8">maize 1082 m<tspan font-size="7.5" dy="-6.4">3</tspan><tspan dy="6.4">/ton</tspan></tspan></text>
<text class="an"><tspan x="692" y="123">average blue+green</tspan><tspan x="691.8" y="137.4">WF of irrigated</tspan><tspan x="692" y="152">maize 889 m<tspan font-size="7.5" dy="-6.4">3</tspan><tspan dy="6.4">/ton</tspan></tspan></text>
<text class="an" style="text-anchor:start"><tspan x="435" y="185.9">50% benchmark blue+green WF of all maize 754 m<tspan font-size="7.5" dy="-6.4">3</tspan><tspan dy="6.4">/ton</tspan></tspan></text>
</svg>
</body></html>
